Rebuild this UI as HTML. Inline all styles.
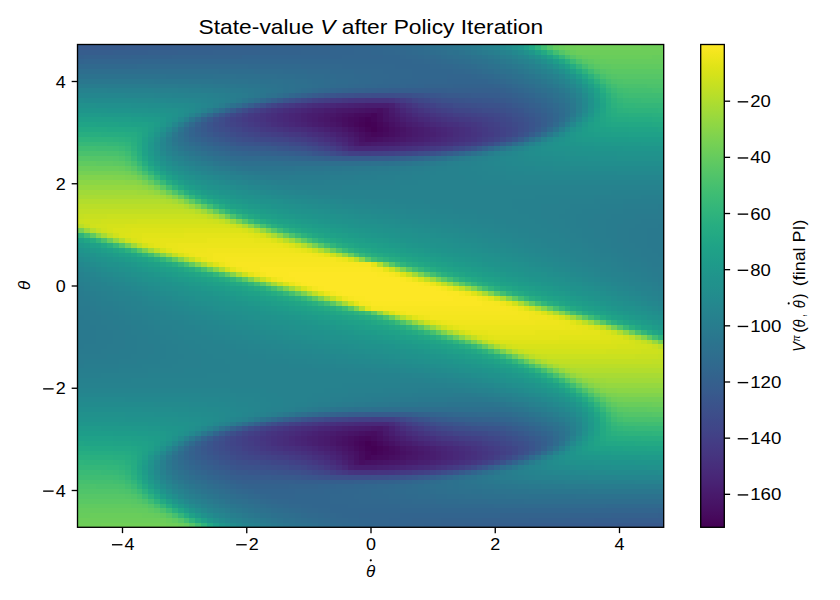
<!DOCTYPE html>
<html><head><meta charset="utf-8"><style>
html,body{margin:0;padding:0;background:#fff;}
body{width:840px;height:600px;position:relative;overflow:hidden;}
svg{position:absolute;left:0;top:0;}
text{font-family:"Liberation Sans",sans-serif;fill:#000;}
</style></head><body>
<svg width="586.2" height="482.8" style="left:77.5px;top:44.5px" viewBox="0 0 100 100" preserveAspectRatio="none" shape-rendering="crispEdges">
<path fill="#38598c" d="M0 0h3v1h-3zM41 10h1v1h-1zM63 10h2v1h-2zM76 13h1v1h-1zM78 15h1v1h-1zM22 18h1v1h-1zM26 20h1v1h-1zM33 21h1v1h-1zM39 22h1v1h-1zM62 22h1v1h-1zM37 77h1v1h-1zM60 77h1v1h-1zM66 78h1v1h-1zM73 79h1v1h-1zM77 81h1v1h-1zM21 84h1v1h-1zM23 86h1v1h-1zM35 89h2v1h-2zM58 89h1v1h-1zM97 99h3v1h-3z"/>
<path fill="#375a8c" d="M3 0h5v1h-5zM65 10h2v1h-2zM34 11h1v1h-1zM73 11h1v1h-1zM75 12h1v1h-1zM22 15h1v1h-1zM21 16h1v1h-1zM21 17h1v1h-1zM32 21h1v1h-1zM68 21h1v1h-1zM31 78h1v1h-1zM67 78h1v1h-1zM78 82h1v1h-1zM78 83h1v1h-1zM77 84h1v1h-1zM24 87h1v1h-1zM26 88h1v1h-1zM65 88h1v1h-1zM33 89h2v1h-2zM92 99h5v1h-5z"/>
<path fill="#375b8d" d="M8 0h4v1h-4zM40 10h1v1h-1zM67 10h3v1h-3zM77 13h1v1h-1zM78 14h1v1h-1zM78 17h1v1h-1zM23 19h1v1h-1zM30 21h2v1h-2zM38 22h1v1h-1zM61 77h1v1h-1zM68 78h2v1h-2zM76 80h1v1h-1zM21 82h1v1h-1zM21 85h1v1h-1zM22 86h1v1h-1zM30 89h3v1h-3zM59 89h1v1h-1zM88 99h4v1h-4z"/>
<path fill="#365c8d" d="M12 0h4v1h-4zM70 10h2v1h-2zM74 11h1v1h-1zM76 12h1v1h-1zM26 13h1v1h-1zM21 18h1v1h-1zM25 20h1v1h-1zM72 20h1v1h-1zM29 21h1v1h-1zM37 22h1v1h-1zM45 23h6v1h-6zM49 76h6v1h-6zM62 77h1v1h-1zM70 78h1v1h-1zM27 79h1v1h-1zM74 79h1v1h-1zM78 81h1v1h-1zM73 86h1v1h-1zM23 87h1v1h-1zM25 88h1v1h-1zM28 89h2v1h-2zM84 99h4v1h-4z"/>
<path fill="#365d8d" d="M16 0h5v1h-5zM0 1h6v1h-6zM72 10h1v1h-1zM79 15h1v1h-1zM79 16h1v1h-1zM77 18h1v1h-1zM75 19h1v1h-1zM28 21h1v1h-1zM63 22h1v1h-1zM44 23h1v1h-1zM51 23h2v1h-2zM47 76h2v1h-2zM55 76h1v1h-1zM36 77h1v1h-1zM71 78h1v1h-1zM24 80h1v1h-1zM22 81h1v1h-1zM20 83h1v1h-1zM20 84h1v1h-1zM27 89h1v1h-1zM94 98h6v1h-6zM79 99h5v1h-5z"/>
<path fill="#355e8d" d="M21 0h4v1h-4zM6 1h6v1h-6zM53 9h10v1h-10zM39 10h1v1h-1zM73 10h1v1h-1zM75 11h1v1h-1zM29 12h1v1h-1zM78 13h1v1h-1zM79 14h1v1h-1zM20 17h1v1h-1zM22 19h1v1h-1zM24 20h1v1h-1zM27 21h1v1h-1zM36 22h1v1h-1zM43 23h1v1h-1zM53 23h1v1h-1zM46 76h1v1h-1zM56 76h1v1h-1zM63 77h1v1h-1zM72 78h1v1h-1zM75 79h1v1h-1zM77 80h1v1h-1zM79 82h1v1h-1zM20 85h1v1h-1zM21 86h1v1h-1zM70 87h1v1h-1zM24 88h1v1h-1zM26 89h1v1h-1zM60 89h1v1h-1zM37 90h10v1h-10zM88 98h6v1h-6zM75 99h4v1h-4z"/>
<path fill="#355f8d" d="M25 0h5v1h-5zM12 1h5v1h-5zM51 9h2v1h-2zM63 9h9v1h-9zM33 11h1v1h-1zM77 12h1v1h-1zM35 22h1v1h-1zM64 77h1v1h-1zM22 87h1v1h-1zM66 88h1v1h-1zM28 90h9v1h-9zM47 90h2v1h-2zM83 98h5v1h-5zM70 99h5v1h-5z"/>
<path fill="#34608d" d="M30 0h4v1h-4zM17 1h6v1h-6zM0 2h1v1h-1zM49 9h2v1h-2zM72 9h1v1h-1zM74 10h1v1h-1zM76 11h1v1h-1zM23 14h1v1h-1zM20 18h1v1h-1zM23 20h1v1h-1zM26 21h1v1h-1zM34 22h1v1h-1zM42 23h1v1h-1zM54 23h1v1h-1zM45 76h1v1h-1zM57 76h1v1h-1zM65 77h1v1h-1zM73 78h1v1h-1zM76 79h1v1h-1zM79 81h1v1h-1zM76 85h1v1h-1zM23 88h1v1h-1zM25 89h1v1h-1zM27 90h1v1h-1zM49 90h2v1h-2zM99 97h1v1h-1zM77 98h6v1h-6zM66 99h4v1h-4z"/>
<path fill="#34618d" d="M34 0h4v1h-4zM23 1h8v1h-8zM1 2h8v1h-8zM47 9h2v1h-2zM38 10h1v1h-1zM78 12h1v1h-1zM79 13h1v1h-1zM80 15h1v1h-1zM20 16h1v1h-1zM21 19h1v1h-1zM69 21h1v1h-1zM33 22h1v1h-1zM64 22h1v1h-1zM55 23h1v1h-1zM44 76h1v1h-1zM35 77h1v1h-1zM66 77h1v1h-1zM30 78h1v1h-1zM78 80h1v1h-1zM79 83h1v1h-1zM19 84h1v1h-1zM20 86h1v1h-1zM21 87h1v1h-1zM61 89h1v1h-1zM51 90h2v1h-2zM91 97h8v1h-8zM69 98h8v1h-8zM62 99h4v1h-4z"/>
<path fill="#33628d" d="M38 0h3v1h-3zM31 1h7v1h-7zM9 2h7v1h-7zM64 8h7v1h-7zM46 9h1v1h-1zM73 9h1v1h-1zM75 10h1v1h-1zM77 11h1v1h-1zM80 14h1v1h-1zM21 15h1v1h-1zM79 17h1v1h-1zM25 21h1v1h-1zM31 22h2v1h-2zM41 23h1v1h-1zM58 76h1v1h-1zM67 77h2v1h-2zM74 78h1v1h-1zM20 82h1v1h-1zM78 84h1v1h-1zM19 85h1v1h-1zM22 88h1v1h-1zM24 89h1v1h-1zM26 90h1v1h-1zM53 90h1v1h-1zM29 91h7v1h-7zM84 97h7v1h-7zM62 98h7v1h-7zM59 99h3v1h-3z"/>
<path fill="#33638d" d="M41 0h3v1h-3zM38 1h5v1h-5zM16 2h12v1h-12zM59 8h5v1h-5zM71 8h1v1h-1zM45 9h1v1h-1zM80 16h1v1h-1zM22 20h1v1h-1zM73 20h1v1h-1zM29 22h2v1h-2zM40 23h1v1h-1zM56 23h1v1h-1zM43 76h1v1h-1zM59 76h1v1h-1zM69 77h2v1h-2zM26 79h1v1h-1zM77 79h1v1h-1zM19 83h1v1h-1zM54 90h1v1h-1zM28 91h1v1h-1zM36 91h5v1h-5zM72 97h12v1h-12zM57 98h5v1h-5zM56 99h3v1h-3z"/>
<path fill="#32648e" d="M44 0h3v1h-3zM43 1h4v1h-4zM28 2h17v1h-17zM0 3h1v1h-1zM63 7h7v1h-7zM56 8h3v1h-3zM72 8h1v1h-1zM44 9h1v1h-1zM74 9h1v1h-1zM37 10h1v1h-1zM76 10h1v1h-1zM32 11h1v1h-1zM79 12h1v1h-1zM25 13h1v1h-1zM80 13h1v1h-1zM19 17h1v1h-1zM19 18h1v1h-1zM20 19h1v1h-1zM24 21h1v1h-1zM28 22h1v1h-1zM39 23h1v1h-1zM60 76h1v1h-1zM71 77h1v1h-1zM75 78h1v1h-1zM79 80h1v1h-1zM80 81h1v1h-1zM80 82h1v1h-1zM19 86h1v1h-1zM74 86h1v1h-1zM20 87h1v1h-1zM67 88h1v1h-1zM23 89h1v1h-1zM62 89h1v1h-1zM25 90h1v1h-1zM55 90h1v1h-1zM27 91h1v1h-1zM41 91h3v1h-3zM30 92h7v1h-7zM99 96h1v1h-1zM55 97h17v1h-17zM53 98h4v1h-4zM53 99h3v1h-3z"/>
<path fill="#32658e" d="M47 0h2v1h-2zM47 1h3v1h-3zM45 2h7v1h-7zM1 3h10v1h-10zM63 6h4v1h-4zM58 7h5v1h-5zM53 8h3v1h-3zM43 9h1v1h-1zM78 11h1v1h-1zM28 12h1v1h-1zM78 18h1v1h-1zM27 22h1v1h-1zM38 23h1v1h-1zM57 23h1v1h-1zM42 76h1v1h-1zM61 76h1v1h-1zM72 77h1v1h-1zM21 81h1v1h-1zM71 87h1v1h-1zM21 88h1v1h-1zM56 90h1v1h-1zM44 91h3v1h-3zM37 92h5v1h-5zM33 93h4v1h-4zM89 96h10v1h-10zM48 97h7v1h-7zM50 98h3v1h-3zM51 99h2v1h-2z"/>
<path fill="#31668e" d="M49 0h2v1h-2zM50 1h2v1h-2zM52 2h3v1h-3zM11 3h46v1h-46zM54 4h6v1h-6zM57 5h7v1h-7zM57 6h6v1h-6zM67 6h1v1h-1zM55 7h3v1h-3zM70 7h1v1h-1zM51 8h2v1h-2zM73 8h1v1h-1zM75 9h1v1h-1zM77 10h1v1h-1zM81 14h1v1h-1zM81 15h1v1h-1zM76 19h1v1h-1zM21 20h1v1h-1zM23 21h1v1h-1zM26 22h1v1h-1zM65 22h1v1h-1zM37 23h1v1h-1zM62 76h1v1h-1zM34 77h1v1h-1zM73 77h1v1h-1zM76 78h1v1h-1zM78 79h1v1h-1zM23 80h1v1h-1zM18 84h1v1h-1zM18 85h1v1h-1zM22 89h1v1h-1zM24 90h1v1h-1zM26 91h1v1h-1zM47 91h2v1h-2zM29 92h1v1h-1zM42 92h3v1h-3zM32 93h1v1h-1zM37 93h6v1h-6zM36 94h7v1h-7zM40 95h6v1h-6zM43 96h46v1h-46zM45 97h3v1h-3zM48 98h2v1h-2zM49 99h2v1h-2z"/>
<path fill="#31678e" d="M51 0h1v1h-1zM52 1h2v1h-2zM55 2h1v1h-1zM57 3h2v1h-2zM45 4h9v1h-9zM60 4h2v1h-2zM52 5h5v1h-5zM64 5h2v1h-2zM53 6h4v1h-4zM68 6h1v1h-1zM52 7h3v1h-3zM71 7h1v1h-1zM49 8h2v1h-2zM42 9h1v1h-1zM36 10h1v1h-1zM79 11h1v1h-1zM80 12h1v1h-1zM19 19h1v1h-1zM36 23h1v1h-1zM58 23h1v1h-1zM41 76h1v1h-1zM63 76h1v1h-1zM80 80h1v1h-1zM19 87h1v1h-1zM20 88h1v1h-1zM63 89h1v1h-1zM57 90h1v1h-1zM49 91h2v1h-2zM28 92h1v1h-1zM45 92h3v1h-3zM31 93h1v1h-1zM43 93h4v1h-4zM34 94h2v1h-2zM43 94h5v1h-5zM38 95h2v1h-2zM46 95h9v1h-9zM41 96h2v1h-2zM44 97h1v1h-1zM46 98h2v1h-2zM48 99h1v1h-1z"/>
<path fill="#31688e" d="M52 0h1v1h-1zM54 1h2v1h-2zM56 2h2v1h-2zM59 3h2v1h-2zM38 4h7v1h-7zM62 4h2v1h-2zM47 5h5v1h-5zM66 5h1v1h-1zM50 6h3v1h-3zM69 6h1v1h-1zM50 7h2v1h-2zM72 7h1v1h-1zM47 8h2v1h-2zM74 8h1v1h-1zM41 9h1v1h-1zM76 9h1v1h-1zM81 13h1v1h-1zM70 21h1v1h-1zM25 22h1v1h-1zM34 23h2v1h-2zM64 76h2v1h-2zM74 77h1v1h-1zM29 78h1v1h-1zM18 86h1v1h-1zM23 90h1v1h-1zM58 90h1v1h-1zM25 91h1v1h-1zM51 91h2v1h-2zM27 92h1v1h-1zM48 92h2v1h-2zM30 93h1v1h-1zM47 93h3v1h-3zM33 94h1v1h-1zM48 94h5v1h-5zM36 95h2v1h-2zM55 95h7v1h-7zM39 96h2v1h-2zM42 97h2v1h-2zM44 98h2v1h-2zM47 99h1v1h-1z"/>
<path fill="#30698e" d="M53 0h2v1h-2zM56 1h1v1h-1zM58 2h1v1h-1zM61 3h1v1h-1zM0 4h10v1h-10zM29 4h9v1h-9zM64 4h1v1h-1zM43 5h4v1h-4zM67 5h1v1h-1zM47 6h3v1h-3zM70 6h1v1h-1zM48 7h2v1h-2zM46 8h1v1h-1zM78 10h1v1h-1zM31 11h1v1h-1zM20 20h1v1h-1zM22 21h1v1h-1zM32 23h2v1h-2zM66 76h2v1h-2zM77 78h1v1h-1zM79 79h1v1h-1zM68 88h1v1h-1zM21 89h1v1h-1zM53 91h1v1h-1zM50 92h2v1h-2zM29 93h1v1h-1zM50 93h3v1h-3zM32 94h1v1h-1zM53 94h4v1h-4zM35 95h1v1h-1zM62 95h9v1h-9zM90 95h10v1h-10zM38 96h1v1h-1zM41 97h1v1h-1zM43 98h1v1h-1zM45 99h2v1h-2z"/>
<path fill="#306a8e" d="M55 0h1v1h-1zM57 1h1v1h-1zM59 2h2v1h-2zM62 3h1v1h-1zM10 4h19v1h-19zM65 4h1v1h-1zM39 5h4v1h-4zM68 5h1v1h-1zM44 6h3v1h-3zM46 7h2v1h-2zM73 7h1v1h-1zM44 8h2v1h-2zM75 8h1v1h-1zM40 9h1v1h-1zM77 9h1v1h-1zM80 11h1v1h-1zM81 12h1v1h-1zM22 14h1v1h-1zM19 16h1v1h-1zM81 16h1v1h-1zM18 18h1v1h-1zM24 22h1v1h-1zM28 23h4v1h-4zM59 23h1v1h-1zM40 76h1v1h-1zM68 76h4v1h-4zM75 77h1v1h-1zM81 81h1v1h-1zM18 83h1v1h-1zM80 83h1v1h-1zM77 85h1v1h-1zM18 87h1v1h-1zM19 88h1v1h-1zM22 90h1v1h-1zM59 90h1v1h-1zM24 91h1v1h-1zM54 91h2v1h-2zM26 92h1v1h-1zM52 92h2v1h-2zM53 93h3v1h-3zM31 94h1v1h-1zM57 94h4v1h-4zM34 95h1v1h-1zM71 95h19v1h-19zM37 96h1v1h-1zM39 97h2v1h-2zM42 98h1v1h-1zM44 99h1v1h-1z"/>
<path fill="#2f6b8e" d="M56 0h1v1h-1zM58 1h1v1h-1zM61 2h1v1h-1zM63 3h1v1h-1zM66 4h1v1h-1zM35 5h4v1h-4zM42 6h2v1h-2zM71 6h1v1h-1zM44 7h2v1h-2zM43 8h1v1h-1zM35 10h1v1h-1zM79 10h1v1h-1zM82 14h1v1h-1zM18 17h1v1h-1zM80 17h1v1h-1zM21 21h1v1h-1zM66 22h1v1h-1zM27 23h1v1h-1zM72 76h1v1h-1zM33 77h1v1h-1zM78 78h1v1h-1zM19 82h1v1h-1zM81 82h1v1h-1zM17 85h1v1h-1zM20 89h1v1h-1zM64 89h1v1h-1zM56 91h1v1h-1zM54 92h2v1h-2zM28 93h1v1h-1zM56 93h2v1h-2zM61 94h4v1h-4zM33 95h1v1h-1zM36 96h1v1h-1zM38 97h1v1h-1zM41 98h1v1h-1zM43 99h1v1h-1z"/>
<path fill="#2f6c8e" d="M57 0h1v1h-1zM59 1h1v1h-1zM64 3h1v1h-1zM67 4h1v1h-1zM30 5h5v1h-5zM69 5h1v1h-1zM39 6h3v1h-3zM72 6h1v1h-1zM42 7h2v1h-2zM74 7h1v1h-1zM42 8h1v1h-1zM76 8h1v1h-1zM39 9h1v1h-1zM27 12h1v1h-1zM82 13h1v1h-1zM20 15h1v1h-1zM18 19h1v1h-1zM19 20h1v1h-1zM74 20h1v1h-1zM23 22h1v1h-1zM26 23h1v1h-1zM60 23h1v1h-1zM39 76h1v1h-1zM73 76h1v1h-1zM76 77h1v1h-1zM25 79h1v1h-1zM80 79h1v1h-1zM81 80h1v1h-1zM79 84h1v1h-1zM17 86h1v1h-1zM72 87h1v1h-1zM60 90h1v1h-1zM23 91h1v1h-1zM57 91h1v1h-1zM25 92h1v1h-1zM56 92h2v1h-2zM27 93h1v1h-1zM58 93h3v1h-3zM30 94h1v1h-1zM65 94h5v1h-5zM32 95h1v1h-1zM35 96h1v1h-1zM40 98h1v1h-1zM42 99h1v1h-1z"/>
<path fill="#2e6d8e" d="M58 0h1v1h-1zM60 1h1v1h-1zM62 2h1v1h-1zM65 3h1v1h-1zM24 5h6v1h-6zM70 5h1v1h-1zM37 6h2v1h-2zM40 7h2v1h-2zM41 8h1v1h-1zM38 9h1v1h-1zM78 9h1v1h-1zM24 13h1v1h-1zM82 15h1v1h-1zM17 84h1v1h-1zM75 86h1v1h-1zM21 90h1v1h-1zM61 90h1v1h-1zM58 91h1v1h-1zM58 92h2v1h-2zM61 93h2v1h-2zM29 94h1v1h-1zM70 94h6v1h-6zM34 96h1v1h-1zM37 97h1v1h-1zM39 98h1v1h-1zM41 99h1v1h-1z"/>
<path fill="#2e6f8e" d="M59 0h1v1h-1zM62 1h1v1h-1zM64 2h1v1h-1zM69 4h1v1h-1zM71 5h1v1h-1zM31 6h3v1h-3zM37 7h2v1h-2zM39 8h1v1h-1zM37 9h1v1h-1zM79 9h1v1h-1zM79 18h1v1h-1zM71 21h1v1h-1zM61 23h1v1h-1zM35 24h13v1h-13zM52 75h13v1h-13zM38 76h1v1h-1zM28 78h1v1h-1zM20 81h1v1h-1zM20 90h1v1h-1zM62 90h1v1h-1zM60 91h1v1h-1zM61 92h2v1h-2zM66 93h3v1h-3zM28 94h1v1h-1zM30 95h1v1h-1zM35 97h1v1h-1zM37 98h1v1h-1zM40 99h1v1h-1z"/>
<path fill="#2d708e" d="M60 0h1v1h-1zM65 2h1v1h-1zM67 3h1v1h-1zM72 5h1v1h-1zM27 6h4v1h-4zM74 6h1v1h-1zM35 7h2v1h-2zM76 7h1v1h-1zM37 8h2v1h-2zM17 18h1v1h-1zM77 19h1v1h-1zM18 20h1v1h-1zM67 22h1v1h-1zM24 23h1v1h-1zM28 24h7v1h-7zM48 24h2v1h-2zM50 75h2v1h-2zM65 75h7v1h-7zM75 76h1v1h-1zM32 77h1v1h-1zM81 79h1v1h-1zM22 80h1v1h-1zM82 81h1v1h-1zM61 91h2v1h-2zM23 92h1v1h-1zM63 92h2v1h-2zM25 93h1v1h-1zM69 93h4v1h-4zM27 94h1v1h-1zM32 96h1v1h-1zM34 97h1v1h-1zM39 99h1v1h-1z"/>
<path fill="#2d718e" d="M61 0h1v1h-1zM63 1h1v1h-1zM68 3h1v1h-1zM70 4h1v1h-1zM23 6h4v1h-4zM33 7h2v1h-2zM36 8h1v1h-1zM78 8h1v1h-1zM36 9h1v1h-1zM33 10h1v1h-1zM81 10h1v1h-1zM82 11h1v1h-1zM83 13h1v1h-1zM17 19h1v1h-1zM19 21h1v1h-1zM21 22h1v1h-1zM27 24h1v1h-1zM50 24h2v1h-2zM48 75h2v1h-2zM72 75h1v1h-1zM78 77h1v1h-1zM80 78h1v1h-1zM82 80h1v1h-1zM16 86h1v1h-1zM17 88h1v1h-1zM18 89h1v1h-1zM66 89h1v1h-1zM63 90h1v1h-1zM21 91h1v1h-1zM63 91h1v1h-1zM65 92h2v1h-2zM73 93h4v1h-4zM29 95h1v1h-1zM31 96h1v1h-1zM36 98h1v1h-1zM38 99h1v1h-1z"/>
<path fill="#2c728e" d="M62 0h1v1h-1zM69 3h1v1h-1zM71 4h1v1h-1zM0 6h15v1h-15zM29 7h2v1h-2zM77 7h1v1h-1zM34 8h1v1h-1zM32 10h1v1h-1zM29 11h1v1h-1zM83 12h1v1h-1zM26 24h1v1h-1zM53 24h1v1h-1zM46 75h1v1h-1zM73 75h1v1h-1zM16 87h1v1h-1zM70 88h1v1h-1zM67 89h1v1h-1zM65 91h1v1h-1zM22 92h1v1h-1zM69 92h2v1h-2zM85 93h15v1h-15zM28 95h1v1h-1zM30 96h1v1h-1zM37 99h1v1h-1z"/>
<path fill="#2c738e" d="M63 0h1v1h-1zM65 1h1v1h-1zM67 2h1v1h-1zM74 5h1v1h-1zM26 7h3v1h-3zM32 8h2v1h-2zM79 8h1v1h-1zM34 9h1v1h-1zM21 14h1v1h-1zM18 16h1v1h-1zM82 16h1v1h-1zM17 20h1v1h-1zM75 20h1v1h-1zM18 21h1v1h-1zM20 22h1v1h-1zM54 24h1v1h-1zM45 75h1v1h-1zM79 77h1v1h-1zM81 78h1v1h-1zM24 79h1v1h-1zM82 79h1v1h-1zM17 83h1v1h-1zM81 83h1v1h-1zM78 85h1v1h-1zM65 90h1v1h-1zM20 91h1v1h-1zM66 91h2v1h-2zM71 92h3v1h-3zM25 94h1v1h-1zM32 97h1v1h-1zM34 98h1v1h-1zM36 99h1v1h-1z"/>
<path fill="#2b758e" d="M64 0h1v1h-1zM66 1h1v1h-1zM19 7h4v1h-4zM29 8h2v1h-2zM32 9h1v1h-1zM31 10h1v1h-1zM83 11h1v1h-1zM83 15h1v1h-1zM72 21h1v1h-1zM63 23h1v1h-1zM24 24h1v1h-1zM56 24h1v1h-1zM28 25h1v1h-1zM37 25h5v1h-5zM58 74h5v1h-5zM71 74h1v1h-1zM43 75h1v1h-1zM75 75h1v1h-1zM36 76h1v1h-1zM27 78h1v1h-1zM16 84h1v1h-1zM16 88h1v1h-1zM68 89h1v1h-1zM67 90h1v1h-1zM69 91h2v1h-2zM77 92h4v1h-4zM33 98h1v1h-1zM35 99h1v1h-1z"/>
<path fill="#2a778e" d="M65 0h1v1h-1zM67 1h1v1h-1zM0 7h13v1h-13zM79 7h1v1h-1zM25 8h2v1h-2zM30 9h1v1h-1zM30 10h1v1h-1zM25 12h1v1h-1zM84 13h1v1h-1zM17 21h1v1h-1zM23 24h1v1h-1zM57 24h1v1h-1zM45 25h2v1h-2zM53 74h2v1h-2zM42 75h1v1h-1zM76 75h1v1h-1zM82 78h1v1h-1zM15 86h1v1h-1zM74 87h1v1h-1zM69 89h1v1h-1zM69 90h1v1h-1zM73 91h2v1h-2zM20 92h1v1h-1zM87 92h13v1h-13zM32 98h1v1h-1zM34 99h1v1h-1z"/>
<path fill="#29798e" d="M66 0h1v1h-1zM68 1h1v1h-1zM78 6h1v1h-1zM21 8h2v1h-2zM81 8h1v1h-1zM28 9h1v1h-1zM29 10h1v1h-1zM84 14h1v1h-1zM80 18h1v1h-1zM18 22h1v1h-1zM69 22h1v1h-1zM20 23h1v1h-1zM49 25h2v1h-2zM30 26h1v1h-1zM37 26h5v1h-5zM99 37h1v1h-1zM97 38h3v1h-3zM97 39h3v1h-3zM97 40h3v1h-3zM97 41h3v1h-3zM98 42h2v1h-2zM99 43h1v1h-1zM0 56h1v1h-1zM0 57h2v1h-2zM0 58h3v1h-3zM0 59h3v1h-3zM0 60h3v1h-3zM0 61h3v1h-3zM0 62h1v1h-1zM58 73h5v1h-5zM69 73h1v1h-1zM49 74h2v1h-2zM79 76h1v1h-1zM30 77h1v1h-1zM81 77h1v1h-1zM19 81h1v1h-1zM15 85h1v1h-1zM70 89h1v1h-1zM71 90h1v1h-1zM18 91h1v1h-1zM77 91h2v1h-2zM21 93h1v1h-1zM31 98h1v1h-1zM33 99h1v1h-1z"/>
<path fill="#297b8e" d="M67 0h1v1h-1zM69 1h1v1h-1zM77 5h1v1h-1zM12 8h5v1h-5zM25 9h1v1h-1zM28 10h1v1h-1zM73 21h1v1h-1zM19 23h1v1h-1zM65 23h1v1h-1zM60 24h1v1h-1zM24 25h1v1h-1zM53 25h2v1h-2zM28 26h1v1h-1zM45 26h3v1h-3zM33 27h3v1h-3zM99 34h1v1h-1zM95 35h5v1h-5zM93 36h3v1h-3zM92 37h3v1h-3zM92 38h2v1h-2zM92 39h2v1h-2zM92 40h2v1h-2zM93 41h2v1h-2zM94 42h2v1h-2zM95 43h1v1h-1zM96 44h1v1h-1zM97 45h1v1h-1zM98 46h2v1h-2zM99 47h1v1h-1zM0 52h1v1h-1zM0 53h2v1h-2zM2 54h1v1h-1zM3 55h1v1h-1zM4 56h1v1h-1zM4 57h2v1h-2zM5 58h2v1h-2zM6 59h2v1h-2zM6 60h2v1h-2zM6 61h2v1h-2zM5 62h3v1h-3zM4 63h3v1h-3zM0 64h5v1h-5zM0 65h1v1h-1zM64 72h3v1h-3zM52 73h3v1h-3zM71 73h1v1h-1zM45 74h2v1h-2zM75 74h1v1h-1zM39 75h1v1h-1zM34 76h1v1h-1zM80 76h1v1h-1zM26 78h1v1h-1zM71 89h1v1h-1zM74 90h1v1h-1zM83 91h5v1h-5zM22 94h1v1h-1zM30 98h1v1h-1zM32 99h1v1h-1z"/>
<path fill="#287d8e" d="M68 0h1v1h-1zM70 1h1v1h-1zM72 2h1v1h-1zM74 3h1v1h-1zM76 4h1v1h-1zM82 8h1v1h-1zM21 9h2v1h-2zM26 10h1v1h-1zM26 11h1v1h-1zM24 12h1v1h-1zM20 14h1v1h-1zM61 24h1v1h-1zM23 25h1v1h-1zM56 25h1v1h-1zM50 26h3v1h-3zM31 27h1v1h-1zM43 27h4v1h-4zM93 33h6v1h-6zM90 34h3v1h-3zM88 35h3v1h-3zM87 36h3v1h-3zM87 37h3v1h-3zM88 38h2v1h-2zM88 39h2v1h-2zM89 40h2v1h-2zM90 41h1v1h-1zM91 42h1v1h-1zM92 43h1v1h-1zM93 44h1v1h-1zM94 45h2v1h-2zM96 46h1v1h-1zM97 47h1v1h-1zM98 48h1v1h-1zM99 49h1v1h-1zM0 50h1v1h-1zM1 51h1v1h-1zM2 52h1v1h-1zM3 53h1v1h-1zM4 54h2v1h-2zM6 55h1v1h-1zM7 56h1v1h-1zM8 57h1v1h-1zM9 58h1v1h-1zM9 59h2v1h-2zM10 60h2v1h-2zM10 61h2v1h-2zM10 62h3v1h-3zM10 63h3v1h-3zM9 64h3v1h-3zM7 65h3v1h-3zM1 66h6v1h-6zM53 72h4v1h-4zM68 72h1v1h-1zM47 73h3v1h-3zM43 74h1v1h-1zM76 74h1v1h-1zM38 75h1v1h-1zM79 85h1v1h-1zM75 87h1v1h-1zM73 88h1v1h-1zM73 89h1v1h-1zM77 90h2v1h-2zM17 91h1v1h-1zM23 95h1v1h-1zM25 96h1v1h-1zM27 97h1v1h-1zM29 98h1v1h-1zM31 99h1v1h-1z"/>
<path fill="#27808e" d="M69 0h1v1h-1zM75 3h1v1h-1zM77 4h1v1h-1zM13 9h4v1h-4zM23 10h1v1h-1zM85 12h1v1h-1zM85 13h1v1h-1zM16 22h1v1h-1zM67 23h1v1h-1zM63 24h1v1h-1zM22 25h1v1h-1zM60 25h1v1h-1zM25 26h1v1h-1zM57 26h2v1h-2zM28 27h1v1h-1zM54 27h3v1h-3zM33 28h1v1h-1zM48 28h6v1h-6zM40 29h5v1h-5zM88 31h8v1h-8zM82 32h6v1h-6zM79 33h5v1h-5zM79 34h4v1h-4zM79 35h3v1h-3zM80 36h3v1h-3zM81 37h2v1h-2zM82 38h2v1h-2zM83 39h2v1h-2zM84 40h2v1h-2zM86 41h1v1h-1zM87 42h1v1h-1zM88 43h1v1h-1zM89 44h2v1h-2zM91 45h1v1h-1zM92 46h1v1h-1zM94 47h1v1h-1zM95 48h1v1h-1zM1 49h1v1h-1zM97 49h1v1h-1zM2 50h1v1h-1zM98 50h1v1h-1zM4 51h1v1h-1zM5 52h1v1h-1zM7 53h1v1h-1zM8 54h1v1h-1zM9 55h2v1h-2zM11 56h1v1h-1zM12 57h1v1h-1zM13 58h1v1h-1zM14 59h2v1h-2zM15 60h2v1h-2zM16 61h2v1h-2zM17 62h2v1h-2zM17 63h3v1h-3zM18 64h3v1h-3zM17 65h4v1h-4zM16 66h5v1h-5zM12 67h6v1h-6zM4 68h8v1h-8zM55 70h5v1h-5zM46 71h6v1h-6zM66 71h1v1h-1zM43 72h3v1h-3zM71 72h1v1h-1zM41 73h2v1h-2zM74 73h1v1h-1zM39 74h1v1h-1zM77 74h1v1h-1zM36 75h1v1h-1zM32 76h1v1h-1zM83 77h1v1h-1zM14 86h1v1h-1zM14 87h1v1h-1zM76 89h1v1h-1zM83 90h4v1h-4zM22 95h1v1h-1zM24 96h1v1h-1zM30 99h1v1h-1z"/>
<path fill="#26828e" d="M70 0h1v1h-1zM72 1h1v1h-1zM74 2h1v1h-1zM82 7h1v1h-1zM83 8h1v1h-1zM0 9h5v1h-5zM84 9h1v1h-1zM20 10h2v1h-2zM21 13h1v1h-1zM15 18h1v1h-1zM79 19h1v1h-1zM71 22h1v1h-1zM17 23h1v1h-1zM68 23h1v1h-1zM65 24h1v1h-1zM21 25h1v1h-1zM63 25h1v1h-1zM61 26h2v1h-2zM27 27h1v1h-1zM60 27h3v1h-3zM31 28h1v1h-1zM58 28h5v1h-5zM36 29h1v1h-1zM55 29h9v1h-9zM43 30h48v1h-48zM59 31h19v1h-19zM66 32h8v1h-8zM69 33h5v1h-5zM71 34h4v1h-4zM74 35h3v1h-3zM75 36h3v1h-3zM77 37h2v1h-2zM78 38h2v1h-2zM80 39h2v1h-2zM81 40h2v1h-2zM83 41h1v1h-1zM84 42h2v1h-2zM86 43h1v1h-1zM87 44h1v1h-1zM89 45h1v1h-1zM90 46h1v1h-1zM92 47h1v1h-1zM1 48h1v1h-1zM2 49h1v1h-1zM95 49h1v1h-1zM4 50h1v1h-1zM97 50h1v1h-1zM98 51h1v1h-1zM7 52h1v1h-1zM9 53h1v1h-1zM10 54h1v1h-1zM12 55h1v1h-1zM13 56h1v1h-1zM14 57h2v1h-2zM16 58h1v1h-1zM17 59h2v1h-2zM18 60h2v1h-2zM20 61h2v1h-2zM21 62h2v1h-2zM22 63h3v1h-3zM23 64h3v1h-3zM25 65h4v1h-4zM26 66h5v1h-5zM26 67h8v1h-8zM22 68h19v1h-19zM9 69h48v1h-48zM36 70h9v1h-9zM63 70h1v1h-1zM37 71h5v1h-5zM68 71h1v1h-1zM37 72h3v1h-3zM72 72h1v1h-1zM37 73h2v1h-2zM36 74h1v1h-1zM78 74h1v1h-1zM34 75h1v1h-1zM31 76h1v1h-1zM82 76h1v1h-1zM28 77h1v1h-1zM20 80h1v1h-1zM84 81h1v1h-1zM78 86h1v1h-1zM78 89h2v1h-2zM15 90h1v1h-1zM95 90h5v1h-5zM16 91h1v1h-1zM17 92h1v1h-1zM25 97h1v1h-1zM27 98h1v1h-1zM29 99h1v1h-1z"/>
<path fill="#25848e" d="M71 0h1v1h-1zM73 1h1v1h-1zM80 5h1v1h-1zM13 10h3v1h-3zM85 10h1v1h-1zM21 11h1v1h-1zM22 12h1v1h-1zM19 14h1v1h-1zM75 21h1v1h-1zM15 22h1v1h-1zM72 22h1v1h-1zM16 23h1v1h-1zM68 24h1v1h-1zM67 25h2v1h-2zM22 26h1v1h-1zM68 26h2v1h-2zM25 27h1v1h-1zM69 27h4v1h-4zM74 28h26v1h-26zM33 29h1v1h-1zM37 30h2v1h-2zM43 31h2v1h-2zM50 32h4v1h-4zM56 33h4v1h-4zM61 34h3v1h-3zM65 35h3v1h-3zM68 36h3v1h-3zM71 37h2v1h-2zM73 38h2v1h-2zM75 39h2v1h-2zM77 40h2v1h-2zM79 41h1v1h-1zM81 42h1v1h-1zM82 43h2v1h-2zM84 44h1v1h-1zM86 45h1v1h-1zM88 46h1v1h-1zM1 47h1v1h-1zM89 47h1v1h-1zM3 48h1v1h-1zM91 48h1v1h-1zM93 49h1v1h-1zM6 50h1v1h-1zM8 51h1v1h-1zM96 51h1v1h-1zM10 52h1v1h-1zM98 52h1v1h-1zM11 53h1v1h-1zM13 54h1v1h-1zM15 55h1v1h-1zM16 56h2v1h-2zM18 57h1v1h-1zM20 58h1v1h-1zM21 59h2v1h-2zM23 60h2v1h-2zM25 61h2v1h-2zM27 62h2v1h-2zM29 63h3v1h-3zM32 64h3v1h-3zM36 65h3v1h-3zM40 66h4v1h-4zM46 67h4v1h-4zM55 68h2v1h-2zM61 69h2v1h-2zM66 70h1v1h-1zM0 71h26v1h-26zM27 72h4v1h-4zM74 72h1v1h-1zM30 73h2v1h-2zM77 73h1v1h-1zM31 74h2v1h-2zM31 75h1v1h-1zM83 76h1v1h-1zM27 77h1v1h-1zM84 77h1v1h-1zM24 78h1v1h-1zM80 85h1v1h-1zM77 87h1v1h-1zM78 88h1v1h-1zM14 89h1v1h-1zM84 89h3v1h-3zM19 94h1v1h-1zM26 98h1v1h-1zM28 99h1v1h-1z"/>
<path fill="#23888e" d="M72 0h1v1h-1zM74 1h1v1h-1zM76 2h1v1h-1zM85 9h1v1h-1zM15 11h2v1h-2zM20 12h1v1h-1zM86 12h1v1h-1zM16 16h1v1h-1zM84 16h1v1h-1zM78 20h1v1h-1zM76 21h1v1h-1zM74 22h1v1h-1zM72 23h1v1h-1zM73 24h1v1h-1zM75 25h3v1h-3zM81 26h11v1h-11zM23 27h1v1h-1zM26 28h1v1h-1zM29 29h1v1h-1zM33 30h1v1h-1zM37 31h2v1h-2zM42 32h2v1h-2zM47 33h2v1h-2zM52 34h2v1h-2zM56 35h2v1h-2zM60 36h2v1h-2zM64 37h1v1h-1zM66 38h2v1h-2zM69 39h2v1h-2zM72 40h1v1h-1zM74 41h1v1h-1zM76 42h1v1h-1zM78 43h1v1h-1zM80 44h1v1h-1zM0 45h1v1h-1zM82 45h1v1h-1zM2 46h1v1h-1zM84 46h1v1h-1zM86 47h1v1h-1zM88 48h1v1h-1zM90 49h1v1h-1zM9 50h1v1h-1zM11 51h1v1h-1zM13 52h1v1h-1zM15 53h1v1h-1zM97 53h1v1h-1zM17 54h1v1h-1zM99 54h1v1h-1zM19 55h1v1h-1zM21 56h1v1h-1zM23 57h1v1h-1zM25 58h1v1h-1zM27 59h1v1h-1zM29 60h2v1h-2zM32 61h2v1h-2zM35 62h1v1h-1zM38 63h2v1h-2zM42 64h2v1h-2zM46 65h2v1h-2zM51 66h2v1h-2zM56 67h2v1h-2zM61 68h2v1h-2zM66 69h1v1h-1zM70 70h1v1h-1zM73 71h1v1h-1zM76 72h1v1h-1zM8 73h11v1h-11zM22 74h3v1h-3zM26 75h1v1h-1zM27 76h1v1h-1zM25 77h1v1h-1zM23 78h1v1h-1zM21 79h1v1h-1zM15 83h1v1h-1zM83 83h1v1h-1zM13 87h1v1h-1zM79 87h1v1h-1zM83 88h2v1h-2zM14 90h1v1h-1zM23 97h1v1h-1zM25 98h1v1h-1zM27 99h1v1h-1z"/>
<path fill="#228c8d" d="M73 0h1v1h-1zM75 1h1v1h-1zM80 4h1v1h-1zM86 10h1v1h-1zM0 11h1v1h-1zM16 12h2v1h-2zM14 18h1v1h-1zM77 21h1v1h-1zM76 22h1v1h-1zM77 23h2v1h-2zM81 24h3v1h-3zM17 25h1v1h-1zM21 27h1v1h-1zM30 30h1v1h-1zM33 31h1v1h-1zM37 32h1v1h-1zM41 33h2v1h-2zM46 34h1v1h-1zM50 35h1v1h-1zM54 36h1v1h-1zM57 37h2v1h-2zM61 38h1v1h-1zM64 39h1v1h-1zM66 40h2v1h-2zM69 41h1v1h-1zM71 42h2v1h-2zM74 43h1v1h-1zM0 44h1v1h-1zM76 44h1v1h-1zM2 45h1v1h-1zM78 45h1v1h-1zM4 46h1v1h-1zM6 47h1v1h-1zM83 47h1v1h-1zM8 48h1v1h-1zM85 48h1v1h-1zM10 49h1v1h-1zM87 49h1v1h-1zM12 50h1v1h-1zM89 50h1v1h-1zM14 51h1v1h-1zM91 51h1v1h-1zM16 52h1v1h-1zM93 52h1v1h-1zM95 53h1v1h-1zM21 54h1v1h-1zM97 54h1v1h-1zM23 55h1v1h-1zM99 55h1v1h-1zM25 56h1v1h-1zM27 57h2v1h-2zM30 58h1v1h-1zM32 59h2v1h-2zM35 60h1v1h-1zM38 61h1v1h-1zM41 62h2v1h-2zM45 63h1v1h-1zM49 64h1v1h-1zM53 65h1v1h-1zM57 66h2v1h-2zM62 67h1v1h-1zM66 68h1v1h-1zM69 69h1v1h-1zM78 72h1v1h-1zM82 74h1v1h-1zM16 75h3v1h-3zM21 76h2v1h-2zM23 77h1v1h-1zM22 78h1v1h-1zM85 81h1v1h-1zM82 87h2v1h-2zM99 88h1v1h-1zM13 89h1v1h-1zM19 95h1v1h-1zM24 98h1v1h-1zM26 99h1v1h-1z"/>
<path fill="#21918c" d="M74 0h1v1h-1zM76 1h1v1h-1zM86 9h1v1h-1zM0 12h3v1h-3zM15 13h2v1h-2zM15 16h1v1h-1zM13 19h1v1h-1zM80 21h1v1h-1zM83 22h2v1h-2zM92 23h8v1h-8zM17 26h1v1h-1zM19 27h1v1h-1zM21 28h1v1h-1zM33 32h1v1h-1zM36 33h1v1h-1zM40 34h1v1h-1zM44 35h1v1h-1zM47 36h1v1h-1zM51 37h1v1h-1zM54 38h1v1h-1zM57 39h1v1h-1zM60 40h2v1h-2zM63 41h1v1h-1zM66 42h1v1h-1zM69 43h1v1h-1zM71 44h1v1h-1zM74 45h1v1h-1zM7 46h1v1h-1zM76 46h1v1h-1zM9 47h1v1h-1zM79 47h1v1h-1zM11 48h1v1h-1zM81 48h1v1h-1zM83 49h1v1h-1zM16 50h1v1h-1zM18 51h1v1h-1zM88 51h1v1h-1zM20 52h1v1h-1zM90 52h1v1h-1zM23 53h1v1h-1zM92 53h1v1h-1zM25 54h1v1h-1zM28 55h1v1h-1zM30 56h1v1h-1zM33 57h1v1h-1zM36 58h1v1h-1zM38 59h2v1h-2zM42 60h1v1h-1zM45 61h1v1h-1zM48 62h1v1h-1zM52 63h1v1h-1zM55 64h1v1h-1zM59 65h1v1h-1zM63 66h1v1h-1zM66 67h1v1h-1zM78 71h1v1h-1zM80 72h1v1h-1zM82 73h1v1h-1zM0 76h8v1h-8zM15 77h2v1h-2zM19 78h1v1h-1zM86 80h1v1h-1zM84 83h1v1h-1zM83 86h2v1h-2zM97 87h3v1h-3zM13 90h1v1h-1zM23 98h1v1h-1zM25 99h1v1h-1z"/>
<path fill="#1f968b" d="M75 0h1v1h-1zM83 5h1v1h-1zM86 8h1v1h-1zM13 14h1v1h-1zM87 14h1v1h-1zM85 20h1v1h-1zM93 21h7v1h-7zM19 28h1v1h-1zM21 29h1v1h-1zM26 31h1v1h-1zM32 33h1v1h-1zM35 34h1v1h-1zM38 35h1v1h-1zM41 36h1v1h-1zM45 37h1v1h-1zM48 38h1v1h-1zM51 39h1v1h-1zM54 40h1v1h-1zM57 41h1v1h-1zM1 42h1v1h-1zM60 42h1v1h-1zM3 43h1v1h-1zM63 43h1v1h-1zM66 44h1v1h-1zM8 45h1v1h-1zM10 46h1v1h-1zM71 46h1v1h-1zM74 47h1v1h-1zM15 48h1v1h-1zM79 49h1v1h-1zM20 50h1v1h-1zM84 51h1v1h-1zM25 52h1v1h-1zM28 53h1v1h-1zM89 53h1v1h-1zM91 54h1v1h-1zM33 55h1v1h-1zM36 56h1v1h-1zM96 56h1v1h-1zM39 57h1v1h-1zM98 57h1v1h-1zM42 58h1v1h-1zM45 59h1v1h-1zM48 60h1v1h-1zM51 61h1v1h-1zM54 62h1v1h-1zM58 63h1v1h-1zM61 64h1v1h-1zM64 65h1v1h-1zM67 66h1v1h-1zM73 68h1v1h-1zM78 70h1v1h-1zM80 71h1v1h-1zM0 78h7v1h-7zM14 79h1v1h-1zM12 85h1v1h-1zM86 85h1v1h-1zM13 91h1v1h-1zM16 94h1v1h-1zM24 99h1v1h-1z"/>
<path fill="#1f9e89" d="M76 0h1v1h-1zM86 7h1v1h-1zM6 15h3v1h-3zM88 18h1v1h-1zM17 28h1v1h-1zM25 32h1v1h-1zM30 34h1v1h-1zM33 35h1v1h-1zM36 36h1v1h-1zM39 37h1v1h-1zM42 38h1v1h-1zM45 39h1v1h-1zM48 40h1v1h-1zM51 41h1v1h-1zM4 42h1v1h-1zM54 42h1v1h-1zM57 43h1v1h-1zM9 44h1v1h-1zM60 44h1v1h-1zM63 45h1v1h-1zM14 46h1v1h-1zM66 46h1v1h-1zM22 49h1v1h-1zM74 49h1v1h-1zM25 50h1v1h-1zM77 50h1v1h-1zM33 53h1v1h-1zM85 53h1v1h-1zM36 54h1v1h-1zM39 55h1v1h-1zM90 55h1v1h-1zM42 56h1v1h-1zM45 57h1v1h-1zM95 57h1v1h-1zM48 58h1v1h-1zM51 59h1v1h-1zM54 60h1v1h-1zM57 61h1v1h-1zM60 62h1v1h-1zM63 63h1v1h-1zM66 64h1v1h-1zM69 65h1v1h-1zM74 67h1v1h-1zM82 71h1v1h-1zM11 81h1v1h-1zM91 84h3v1h-3zM13 92h1v1h-1zM23 99h1v1h-1z"/>
<path fill="#22a884" d="M77 0h1v1h-1zM89 10h1v1h-1zM90 15h1v1h-1zM94 16h4v1h-4zM5 17h3v1h-3zM10 18h1v1h-1zM40 39h1v1h-1zM43 40h1v1h-1zM4 41h1v1h-1zM12 44h1v1h-1zM55 44h1v1h-1zM58 45h1v1h-1zM61 46h1v1h-1zM64 47h1v1h-1zM67 48h1v1h-1zM32 51h1v1h-1zM35 52h1v1h-1zM38 53h1v1h-1zM41 54h1v1h-1zM44 55h1v1h-1zM87 55h1v1h-1zM95 58h1v1h-1zM56 59h1v1h-1zM59 60h1v1h-1zM89 81h1v1h-1zM92 82h3v1h-3zM2 83h4v1h-4zM9 84h1v1h-1zM10 89h1v1h-1zM22 99h1v1h-1z"/>
<path fill="#2eb37c" d="M78 0h1v1h-1zM86 5h1v1h-1zM91 11h1v1h-1zM94 13h5v1h-5zM2 19h4v1h-4zM0 39h1v1h-1zM99 60h1v1h-1zM94 80h4v1h-4zM1 86h5v1h-5zM8 88h1v1h-1zM13 94h1v1h-1zM21 99h1v1h-1z"/>
<path fill="#40bd72" d="M79 0h1v1h-1zM92 9h1v1h-1zM0 21h3v1h-3zM15 29h1v1h-1zM42 41h1v1h-1zM12 43h1v1h-1zM50 44h1v1h-1zM49 55h1v1h-1zM87 56h1v1h-1zM57 58h1v1h-1zM84 70h1v1h-1zM97 78h3v1h-3zM7 90h1v1h-1zM20 99h1v1h-1z"/>
<path fill="#54c568" d="M80 0h1v1h-1zM82 1h1v1h-1zM89 5h1v1h-1zM91 6h1v1h-1zM2 23h4v1h-4zM94 76h4v1h-4zM8 93h1v1h-1zM10 94h1v1h-1zM17 98h1v1h-1zM19 99h1v1h-1z"/>
<path fill="#63cb5f" d="M81 0h1v1h-1zM88 3h2v1h-2zM19 45h1v1h-1zM22 46h1v1h-1zM77 53h1v1h-1zM80 54h1v1h-1zM10 96h2v1h-2zM18 99h1v1h-1z"/>
<path fill="#69cd5b" d="M82 0h1v1h-1zM89 2h9v1h-9zM2 25h5v1h-5zM15 30h1v1h-1zM35 39h1v1h-1zM46 43h1v1h-1zM53 56h1v1h-1zM64 60h1v1h-1zM84 69h1v1h-1zM93 74h5v1h-5zM2 97h9v1h-9zM17 99h1v1h-1z"/>
<path fill="#6ece58" d="M83 0h2v1h-2zM96 0h4v1h-4zM10 27h1v1h-1zM43 42h1v1h-1zM56 57h1v1h-1zM89 72h1v1h-1zM0 99h4v1h-4zM15 99h2v1h-2z"/>
<path fill="#70cf57" d="M85 0h11v1h-11zM8 26h1v1h-1zM91 73h1v1h-1zM4 99h11v1h-11z"/>
<path fill="#2e6e8e" d="M61 1h1v1h-1zM63 2h1v1h-1zM66 3h1v1h-1zM68 4h1v1h-1zM0 5h24v1h-24zM34 6h3v1h-3zM73 6h1v1h-1zM39 7h1v1h-1zM75 7h1v1h-1zM40 8h1v1h-1zM77 8h1v1h-1zM34 10h1v1h-1zM80 10h1v1h-1zM30 11h1v1h-1zM81 11h1v1h-1zM82 12h1v1h-1zM20 21h1v1h-1zM22 22h1v1h-1zM25 23h1v1h-1zM74 76h1v1h-1zM77 77h1v1h-1zM79 78h1v1h-1zM17 87h1v1h-1zM18 88h1v1h-1zM69 88h1v1h-1zM19 89h1v1h-1zM65 89h1v1h-1zM22 91h1v1h-1zM59 91h1v1h-1zM24 92h1v1h-1zM60 92h1v1h-1zM26 93h1v1h-1zM63 93h3v1h-3zM76 94h24v1h-24zM31 95h1v1h-1zM33 96h1v1h-1zM36 97h1v1h-1zM38 98h1v1h-1z"/>
<path fill="#2c718e" d="M64 1h1v1h-1zM66 2h1v1h-1zM73 5h1v1h-1zM15 6h8v1h-8zM75 6h1v1h-1zM31 7h2v1h-2zM35 8h1v1h-1zM35 9h1v1h-1zM80 9h1v1h-1zM26 12h1v1h-1zM83 14h1v1h-1zM23 23h1v1h-1zM62 23h1v1h-1zM52 24h1v1h-1zM47 75h1v1h-1zM37 76h1v1h-1zM76 76h1v1h-1zM16 85h1v1h-1zM73 87h1v1h-1zM19 90h1v1h-1zM64 90h1v1h-1zM64 91h1v1h-1zM67 92h2v1h-2zM24 93h1v1h-1zM77 93h8v1h-8zM26 94h1v1h-1zM33 97h1v1h-1zM35 98h1v1h-1z"/>
<path fill="#277f8e" d="M71 1h1v1h-1zM73 2h1v1h-1zM80 6h1v1h-1zM17 9h2v1h-2zM24 10h1v1h-1zM25 11h1v1h-1zM84 15h1v1h-1zM16 17h1v1h-1zM82 17h1v1h-1zM15 20h1v1h-1zM59 25h1v1h-1zM55 26h2v1h-2zM29 27h1v1h-1zM51 27h3v1h-3zM34 28h2v1h-2zM42 28h6v1h-6zM96 31h4v1h-4zM88 32h5v1h-5zM84 33h5v1h-5zM83 34h3v1h-3zM82 35h3v1h-3zM83 36h2v1h-2zM83 37h2v1h-2zM84 38h2v1h-2zM85 39h1v1h-1zM86 40h1v1h-1zM87 41h1v1h-1zM88 42h1v1h-1zM89 43h2v1h-2zM91 44h1v1h-1zM92 45h1v1h-1zM93 46h1v1h-1zM95 47h1v1h-1zM96 48h1v1h-1zM0 49h1v1h-1zM98 49h1v1h-1zM1 50h1v1h-1zM99 50h1v1h-1zM3 51h1v1h-1zM4 52h1v1h-1zM6 53h1v1h-1zM7 54h1v1h-1zM8 55h1v1h-1zM9 56h2v1h-2zM11 57h1v1h-1zM12 58h1v1h-1zM13 59h1v1h-1zM14 60h1v1h-1zM14 61h2v1h-2zM15 62h2v1h-2zM15 63h2v1h-2zM15 64h3v1h-3zM14 65h3v1h-3zM11 66h5v1h-5zM7 67h5v1h-5zM0 68h4v1h-4zM52 71h6v1h-6zM64 71h2v1h-2zM46 72h3v1h-3zM70 72h1v1h-1zM43 73h2v1h-2zM40 74h1v1h-1zM84 79h1v1h-1zM17 82h1v1h-1zM83 82h1v1h-1zM15 84h1v1h-1zM74 88h1v1h-1zM75 89h1v1h-1zM81 90h2v1h-2zM19 93h1v1h-1zM26 97h1v1h-1zM28 98h1v1h-1z"/>
<path fill="#1f978b" d="M77 1h1v1h-1zM11 14h2v1h-2zM14 16h1v1h-1zM85 17h1v1h-1zM84 18h1v1h-1zM84 19h1v1h-1zM86 20h2v1h-2zM17 27h1v1h-1zM23 30h1v1h-1zM28 32h1v1h-1zM31 33h1v1h-1zM34 34h1v1h-1zM37 35h1v1h-1zM44 37h1v1h-1zM47 38h1v1h-1zM50 39h1v1h-1zM53 40h1v1h-1zM56 41h1v1h-1zM59 42h1v1h-1zM62 43h1v1h-1zM6 44h1v1h-1zM65 44h1v1h-1zM68 45h1v1h-1zM13 47h1v1h-1zM73 47h1v1h-1zM76 48h1v1h-1zM18 49h1v1h-1zM81 50h1v1h-1zM23 51h1v1h-1zM26 52h1v1h-1zM86 52h1v1h-1zM31 54h1v1h-1zM34 55h1v1h-1zM93 55h1v1h-1zM37 56h1v1h-1zM40 57h1v1h-1zM43 58h1v1h-1zM46 59h1v1h-1zM49 60h1v1h-1zM52 61h1v1h-1zM55 62h1v1h-1zM62 64h1v1h-1zM65 65h1v1h-1zM68 66h1v1h-1zM71 67h1v1h-1zM76 69h1v1h-1zM82 72h1v1h-1zM12 79h2v1h-2zM15 80h1v1h-1zM15 81h1v1h-1zM14 82h1v1h-1zM85 83h1v1h-1zM87 85h2v1h-2zM22 98h1v1h-1z"/>
<path fill="#1fa088" d="M78 1h1v1h-1zM91 18h3v1h-3zM22 31h1v1h-1zM29 34h1v1h-1zM32 35h1v1h-1zM35 36h1v1h-1zM2 41h1v1h-1zM50 41h1v1h-1zM53 42h1v1h-1zM7 43h1v1h-1zM56 43h1v1h-1zM59 44h1v1h-1zM62 45h1v1h-1zM15 46h1v1h-1zM23 49h1v1h-1zM73 49h1v1h-1zM26 50h1v1h-1zM76 50h1v1h-1zM84 53h1v1h-1zM37 54h1v1h-1zM40 55h1v1h-1zM43 56h1v1h-1zM92 56h1v1h-1zM46 57h1v1h-1zM49 58h1v1h-1zM97 58h1v1h-1zM64 63h1v1h-1zM67 64h1v1h-1zM70 65h1v1h-1zM77 68h1v1h-1zM6 81h3v1h-3zM21 98h1v1h-1z"/>
<path fill="#23a983" d="M79 1h1v1h-1zM85 5h1v1h-1zM88 8h1v1h-1zM98 16h2v1h-2zM0 17h5v1h-5zM10 19h1v1h-1zM10 20h1v1h-1zM17 29h1v1h-1zM29 35h1v1h-1zM37 38h1v1h-1zM15 45h1v1h-1zM84 54h1v1h-1zM62 61h1v1h-1zM70 64h1v1h-1zM82 70h1v1h-1zM89 79h1v1h-1zM89 80h1v1h-1zM95 82h5v1h-5zM0 83h2v1h-2zM11 91h1v1h-1zM14 94h1v1h-1zM20 98h1v1h-1z"/>
<path fill="#2fb47c" d="M80 1h1v1h-1zM92 12h1v1h-1zM99 13h1v1h-1zM0 19h2v1h-2zM8 20h1v1h-1zM21 32h1v1h-1zM23 33h1v1h-1zM35 38h1v1h-1zM11 43h1v1h-1zM55 45h1v1h-1zM44 54h1v1h-1zM88 56h1v1h-1zM64 61h1v1h-1zM76 66h1v1h-1zM78 67h1v1h-1zM91 79h1v1h-1zM98 80h2v1h-2zM0 86h1v1h-1zM7 87h1v1h-1zM19 98h1v1h-1z"/>
<path fill="#42be71" d="M81 1h1v1h-1zM91 8h1v1h-1zM93 9h1v1h-1zM1 39h1v1h-1zM57 46h1v1h-1zM27 48h1v1h-1zM30 49h1v1h-1zM69 50h1v1h-1zM72 51h1v1h-1zM42 53h1v1h-1zM98 60h1v1h-1zM6 90h1v1h-1zM8 91h1v1h-1zM18 98h1v1h-1z"/>
<path fill="#60ca60" d="M83 1h1v1h-1zM85 2h1v1h-1zM91 4h9v1h-9zM0 24h3v1h-3zM8 25h1v1h-1zM19 32h1v1h-1zM21 33h1v1h-1zM2 39h1v1h-1zM38 40h1v1h-1zM16 44h1v1h-1zM25 47h1v1h-1zM74 52h1v1h-1zM83 55h1v1h-1zM61 59h1v1h-1zM97 60h1v1h-1zM78 66h1v1h-1zM80 67h1v1h-1zM91 74h1v1h-1zM97 75h3v1h-3zM0 95h9v1h-9zM14 97h1v1h-1zM16 98h1v1h-1z"/>
<path fill="#67cc5c" d="M84 1h1v1h-1zM87 2h2v1h-2zM98 2h2v1h-2zM7 25h1v1h-1zM9 26h1v1h-1zM90 73h1v1h-1zM92 74h1v1h-1zM0 97h2v1h-2zM11 97h2v1h-2zM15 98h1v1h-1z"/>
<path fill="#6ccd5a" d="M85 1h15v1h-15zM0 25h2v1h-2zM25 35h1v1h-1zM5 40h1v1h-1zM94 59h1v1h-1zM74 64h1v1h-1zM98 74h2v1h-2zM0 98h15v1h-15z"/>
<path fill="#2b748e" d="M68 2h1v1h-1zM70 3h1v1h-1zM72 4h1v1h-1zM76 6h1v1h-1zM23 7h3v1h-3zM78 7h1v1h-1zM31 8h1v1h-1zM33 9h1v1h-1zM81 9h1v1h-1zM82 10h1v1h-1zM23 13h1v1h-1zM17 17h1v1h-1zM81 17h1v1h-1zM68 22h1v1h-1zM22 23h1v1h-1zM25 24h1v1h-1zM55 24h1v1h-1zM29 25h8v1h-8zM63 74h8v1h-8zM44 75h1v1h-1zM74 75h1v1h-1zM77 76h1v1h-1zM31 77h1v1h-1zM18 82h1v1h-1zM82 82h1v1h-1zM76 86h1v1h-1zM17 89h1v1h-1zM18 90h1v1h-1zM66 90h1v1h-1zM68 91h1v1h-1zM21 92h1v1h-1zM74 92h3v1h-3zM23 93h1v1h-1zM27 95h1v1h-1zM29 96h1v1h-1zM31 97h1v1h-1z"/>
<path fill="#2a768e" d="M69 2h1v1h-1zM71 3h1v1h-1zM73 4h1v1h-1zM75 5h1v1h-1zM77 6h1v1h-1zM13 7h6v1h-6zM27 8h2v1h-2zM80 8h1v1h-1zM31 9h1v1h-1zM28 11h1v1h-1zM19 15h1v1h-1zM16 19h1v1h-1zM19 22h1v1h-1zM21 23h1v1h-1zM27 25h1v1h-1zM42 25h3v1h-3zM55 74h3v1h-3zM72 74h1v1h-1zM78 76h1v1h-1zM80 77h1v1h-1zM83 80h1v1h-1zM80 84h1v1h-1zM71 88h1v1h-1zM68 90h1v1h-1zM19 91h1v1h-1zM71 91h2v1h-2zM81 92h6v1h-6zM22 93h1v1h-1zM24 94h1v1h-1zM26 95h1v1h-1zM28 96h1v1h-1zM30 97h1v1h-1z"/>
<path fill="#2a788e" d="M70 2h1v1h-1zM72 3h1v1h-1zM74 4h1v1h-1zM76 5h1v1h-1zM23 8h2v1h-2zM29 9h1v1h-1zM82 9h1v1h-1zM83 10h1v1h-1zM84 12h1v1h-1zM16 18h1v1h-1zM78 19h1v1h-1zM16 20h1v1h-1zM64 23h1v1h-1zM58 24h1v1h-1zM26 25h1v1h-1zM47 25h2v1h-2zM31 26h6v1h-6zM63 73h6v1h-6zM51 74h2v1h-2zM73 74h1v1h-1zM41 75h1v1h-1zM35 76h1v1h-1zM83 79h1v1h-1zM21 80h1v1h-1zM83 81h1v1h-1zM15 87h1v1h-1zM16 89h1v1h-1zM17 90h1v1h-1zM70 90h1v1h-1zM75 91h2v1h-2zM23 94h1v1h-1zM25 95h1v1h-1zM27 96h1v1h-1zM29 97h1v1h-1z"/>
<path fill="#297a8e" d="M71 2h1v1h-1zM73 3h1v1h-1zM75 4h1v1h-1zM80 7h1v1h-1zM17 8h4v1h-4zM26 9h2v1h-2zM27 11h1v1h-1zM84 11h1v1h-1zM22 24h1v1h-1zM59 24h1v1h-1zM25 25h1v1h-1zM51 25h2v1h-2zM29 26h1v1h-1zM42 26h3v1h-3zM96 36h4v1h-4zM95 37h4v1h-4zM94 38h3v1h-3zM94 39h3v1h-3zM94 40h3v1h-3zM95 41h2v1h-2zM96 42h2v1h-2zM96 43h3v1h-3zM97 44h3v1h-3zM98 45h2v1h-2zM0 54h2v1h-2zM0 55h3v1h-3zM1 56h3v1h-3zM2 57h2v1h-2zM3 58h2v1h-2zM3 59h3v1h-3zM3 60h3v1h-3zM3 61h3v1h-3zM1 62h4v1h-4zM0 63h4v1h-4zM55 73h3v1h-3zM70 73h1v1h-1zM47 74h2v1h-2zM74 74h1v1h-1zM40 75h1v1h-1zM77 75h1v1h-1zM15 88h1v1h-1zM72 88h1v1h-1zM72 90h2v1h-2zM79 91h4v1h-4zM19 92h1v1h-1zM24 95h1v1h-1zM26 96h1v1h-1zM28 97h1v1h-1z"/>
<path fill="#25858e" d="M75 2h1v1h-1zM77 3h1v1h-1zM8 10h5v1h-5zM20 11h1v1h-1zM70 23h1v1h-1zM69 24h1v1h-1zM69 25h2v1h-2zM70 26h3v1h-3zM73 27h6v1h-6zM28 28h1v1h-1zM32 29h1v1h-1zM36 30h1v1h-1zM41 31h2v1h-2zM47 32h3v1h-3zM53 33h3v1h-3zM59 34h2v1h-2zM63 35h2v1h-2zM66 36h2v1h-2zM69 37h2v1h-2zM71 38h2v1h-2zM74 39h1v1h-1zM76 40h1v1h-1zM78 41h1v1h-1zM80 42h1v1h-1zM81 43h1v1h-1zM83 44h1v1h-1zM85 45h1v1h-1zM0 46h1v1h-1zM87 46h1v1h-1zM2 47h1v1h-1zM88 47h1v1h-1zM90 48h1v1h-1zM5 49h1v1h-1zM92 49h1v1h-1zM7 50h1v1h-1zM94 50h1v1h-1zM9 51h1v1h-1zM11 52h1v1h-1zM97 52h1v1h-1zM12 53h1v1h-1zM99 53h1v1h-1zM14 54h1v1h-1zM16 55h1v1h-1zM18 56h1v1h-1zM19 57h1v1h-1zM21 58h1v1h-1zM23 59h1v1h-1zM25 60h1v1h-1zM27 61h2v1h-2zM29 62h2v1h-2zM32 63h2v1h-2zM35 64h2v1h-2zM39 65h2v1h-2zM44 66h3v1h-3zM50 67h3v1h-3zM57 68h2v1h-2zM63 69h1v1h-1zM67 70h1v1h-1zM71 71h1v1h-1zM21 72h6v1h-6zM27 73h3v1h-3zM29 74h2v1h-2zM30 75h1v1h-1zM29 76h1v1h-1zM79 88h1v1h-1zM87 89h5v1h-5zM22 96h1v1h-1zM24 97h1v1h-1z"/>
<path fill="#228d8d" d="M77 2h1v1h-1zM84 7h1v1h-1zM15 12h1v1h-1zM18 13h1v1h-1zM86 14h1v1h-1zM79 20h1v1h-1zM77 22h1v1h-1zM79 23h2v1h-2zM84 24h5v1h-5zM23 28h1v1h-1zM26 29h1v1h-1zM29 30h1v1h-1zM36 32h1v1h-1zM40 33h1v1h-1zM44 34h2v1h-2zM48 35h2v1h-2zM52 36h2v1h-2zM56 37h1v1h-1zM59 38h2v1h-2zM62 39h2v1h-2zM65 40h1v1h-1zM68 41h1v1h-1zM70 42h1v1h-1zM73 43h1v1h-1zM75 44h1v1h-1zM77 45h1v1h-1zM80 46h1v1h-1zM7 47h1v1h-1zM82 47h1v1h-1zM9 48h1v1h-1zM84 48h1v1h-1zM11 49h1v1h-1zM86 49h1v1h-1zM13 50h1v1h-1zM88 50h1v1h-1zM15 51h1v1h-1zM90 51h1v1h-1zM17 52h1v1h-1zM92 52h1v1h-1zM19 53h1v1h-1zM22 54h1v1h-1zM24 55h1v1h-1zM26 56h1v1h-1zM29 57h1v1h-1zM31 58h1v1h-1zM34 59h1v1h-1zM36 60h2v1h-2zM39 61h2v1h-2zM43 62h1v1h-1zM46 63h2v1h-2zM50 64h2v1h-2zM54 65h2v1h-2zM59 66h1v1h-1zM63 67h1v1h-1zM70 69h1v1h-1zM73 70h1v1h-1zM76 71h1v1h-1zM11 75h5v1h-5zM19 76h2v1h-2zM22 77h1v1h-1zM20 79h1v1h-1zM13 85h1v1h-1zM81 86h1v1h-1zM84 87h1v1h-1zM15 92h1v1h-1zM22 97h1v1h-1z"/>
<path fill="#20928c" d="M78 2h1v1h-1zM87 11h1v1h-1zM12 13h2v1h-2zM16 14h1v1h-1zM14 17h1v1h-1zM82 19h1v1h-1zM81 20h1v1h-1zM82 21h2v1h-2zM87 22h5v1h-5zM28 31h1v1h-1zM31 32h1v1h-1zM35 33h1v1h-1zM38 34h1v1h-1zM42 35h1v1h-1zM45 36h1v1h-1zM48 37h2v1h-2zM52 38h1v1h-1zM55 39h1v1h-1zM58 40h1v1h-1zM61 41h1v1h-1zM64 42h1v1h-1zM67 43h1v1h-1zM69 44h1v1h-1zM6 45h1v1h-1zM72 45h1v1h-1zM8 46h1v1h-1zM10 47h1v1h-1zM77 47h1v1h-1zM15 49h1v1h-1zM82 49h1v1h-1zM17 50h1v1h-1zM84 50h1v1h-1zM22 52h1v1h-1zM89 52h1v1h-1zM91 53h1v1h-1zM27 54h1v1h-1zM93 54h1v1h-1zM30 55h1v1h-1zM32 56h1v1h-1zM35 57h1v1h-1zM38 58h1v1h-1zM41 59h1v1h-1zM44 60h1v1h-1zM47 61h1v1h-1zM50 62h2v1h-2zM54 63h1v1h-1zM57 64h1v1h-1zM61 65h1v1h-1zM64 66h1v1h-1zM68 67h1v1h-1zM71 68h1v1h-1zM8 77h5v1h-5zM16 78h2v1h-2zM18 79h1v1h-1zM17 80h1v1h-1zM85 82h1v1h-1zM83 85h1v1h-1zM86 86h2v1h-2zM12 88h1v1h-1zM21 97h1v1h-1z"/>
<path fill="#1f998a" d="M79 2h1v1h-1zM82 4h1v1h-1zM87 9h1v1h-1zM4 14h5v1h-5zM86 16h1v1h-1zM13 17h1v1h-1zM85 19h1v1h-1zM91 20h5v1h-5zM14 25h1v1h-1zM18 28h1v1h-1zM20 29h1v1h-1zM22 30h1v1h-1zM27 32h1v1h-1zM30 33h1v1h-1zM33 34h1v1h-1zM36 35h1v1h-1zM39 36h1v1h-1zM42 37h1v1h-1zM45 38h1v1h-1zM48 39h1v1h-1zM52 40h1v1h-1zM0 41h1v1h-1zM55 41h1v1h-1zM2 42h1v1h-1zM58 42h1v1h-1zM61 43h1v1h-1zM7 44h1v1h-1zM66 45h1v1h-1zM69 46h1v1h-1zM14 47h1v1h-1zM72 47h1v1h-1zM19 49h1v1h-1zM77 49h1v1h-1zM22 50h1v1h-1zM80 50h1v1h-1zM27 52h1v1h-1zM85 52h1v1h-1zM30 53h1v1h-1zM33 54h1v1h-1zM92 55h1v1h-1zM38 56h1v1h-1zM41 57h1v1h-1zM97 57h1v1h-1zM44 58h1v1h-1zM99 58h1v1h-1zM47 59h1v1h-1zM51 60h1v1h-1zM54 61h1v1h-1zM57 62h1v1h-1zM60 63h1v1h-1zM63 64h1v1h-1zM66 65h1v1h-1zM69 66h1v1h-1zM72 67h1v1h-1zM77 69h1v1h-1zM79 70h1v1h-1zM81 71h1v1h-1zM85 74h1v1h-1zM4 79h5v1h-5zM14 80h1v1h-1zM86 82h1v1h-1zM13 83h1v1h-1zM91 85h5v1h-5zM12 90h1v1h-1zM17 95h1v1h-1zM20 97h1v1h-1z"/>
<path fill="#1fa187" d="M80 2h1v1h-1zM83 4h1v1h-1zM88 15h1v1h-1zM9 16h2v1h-2zM89 17h1v1h-1zM11 19h1v1h-1zM18 29h1v1h-1zM26 33h1v1h-1zM31 35h1v1h-1zM34 36h1v1h-1zM37 37h1v1h-1zM0 40h1v1h-1zM55 43h1v1h-1zM58 44h1v1h-1zM13 45h1v1h-1zM61 45h1v1h-1zM21 48h1v1h-1zM24 49h1v1h-1zM72 49h1v1h-1zM27 50h1v1h-1zM75 50h1v1h-1zM78 51h1v1h-1zM38 54h1v1h-1zM86 54h1v1h-1zM41 55h1v1h-1zM44 56h1v1h-1zM99 59h1v1h-1zM62 62h1v1h-1zM65 63h1v1h-1zM68 64h1v1h-1zM73 66h1v1h-1zM81 70h1v1h-1zM88 80h1v1h-1zM10 82h1v1h-1zM89 83h2v1h-2zM11 84h1v1h-1zM16 95h1v1h-1zM19 97h1v1h-1z"/>
<path fill="#25ac82" d="M81 2h1v1h-1zM84 4h1v1h-1zM90 12h1v1h-1zM94 15h4v1h-4zM8 18h1v1h-1zM20 31h1v1h-1zM22 32h1v1h-1zM24 33h1v1h-1zM31 36h1v1h-1zM10 43h1v1h-1zM60 46h1v1h-1zM63 47h1v1h-1zM66 48h1v1h-1zM33 51h1v1h-1zM36 52h1v1h-1zM39 53h1v1h-1zM89 56h1v1h-1zM68 63h1v1h-1zM75 66h1v1h-1zM77 67h1v1h-1zM79 68h1v1h-1zM91 81h1v1h-1zM2 84h4v1h-4zM9 87h1v1h-1zM15 95h1v1h-1zM18 97h1v1h-1z"/>
<path fill="#34b679" d="M82 2h1v1h-1zM85 4h1v1h-1zM91 10h1v1h-1zM92 11h1v1h-1zM95 12h5v1h-5zM3 40h1v1h-1zM51 44h1v1h-1zM17 45h1v1h-1zM58 46h1v1h-1zM67 49h1v1h-1zM32 50h1v1h-1zM41 53h1v1h-1zM82 54h1v1h-1zM48 55h1v1h-1zM96 59h1v1h-1zM0 87h5v1h-5zM7 88h1v1h-1zM8 89h1v1h-1zM14 95h1v1h-1zM17 97h1v1h-1z"/>
<path fill="#46c06f" d="M83 2h1v1h-1zM98 9h2v1h-2zM8 23h1v1h-1zM9 24h1v1h-1zM24 34h1v1h-1zM39 40h1v1h-1zM18 45h1v1h-1zM21 46h1v1h-1zM63 48h1v1h-1zM36 51h1v1h-1zM78 53h1v1h-1zM81 54h1v1h-1zM60 59h1v1h-1zM75 65h1v1h-1zM90 75h1v1h-1zM91 76h1v1h-1zM0 90h2v1h-2zM16 97h1v1h-1z"/>
<path fill="#56c667" d="M84 2h1v1h-1zM92 6h8v1h-8zM0 23h2v1h-2zM9 25h1v1h-1zM90 74h1v1h-1zM98 76h2v1h-2zM0 93h8v1h-8zM15 97h1v1h-1z"/>
<path fill="#65cb5e" d="M86 2h1v1h-1zM90 3h10v1h-10zM12 28h1v1h-1zM17 31h1v1h-1zM23 34h1v1h-1zM30 37h1v1h-1zM69 62h1v1h-1zM76 65h1v1h-1zM82 68h1v1h-1zM87 71h1v1h-1zM0 96h10v1h-10zM13 97h1v1h-1z"/>
<path fill="#26828e" d="M76 3h1v1h-1zM81 6h1v1h-1zM18 10h2v1h-2zM23 11h1v1h-1zM81 18h1v1h-1zM77 20h1v1h-1zM66 24h1v1h-1zM64 25h1v1h-1zM23 26h1v1h-1zM63 26h2v1h-2zM26 27h1v1h-1zM63 27h3v1h-3zM30 28h1v1h-1zM63 28h5v1h-5zM35 29h1v1h-1zM64 29h36v1h-36zM41 30h2v1h-2zM49 31h10v1h-10zM59 32h7v1h-7zM64 33h5v1h-5zM68 34h3v1h-3zM71 35h3v1h-3zM73 36h2v1h-2zM75 37h2v1h-2zM77 38h1v1h-1zM78 39h2v1h-2zM80 40h1v1h-1zM82 41h1v1h-1zM83 42h1v1h-1zM85 43h1v1h-1zM86 44h1v1h-1zM88 45h1v1h-1zM89 46h1v1h-1zM0 47h1v1h-1zM91 47h1v1h-1zM93 48h1v1h-1zM3 49h1v1h-1zM94 49h1v1h-1zM5 50h1v1h-1zM96 50h1v1h-1zM6 51h1v1h-1zM8 52h1v1h-1zM99 52h1v1h-1zM10 53h1v1h-1zM11 54h1v1h-1zM13 55h1v1h-1zM14 56h1v1h-1zM16 57h1v1h-1zM17 58h1v1h-1zM19 59h1v1h-1zM20 60h2v1h-2zM22 61h1v1h-1zM23 62h2v1h-2zM25 63h2v1h-2zM26 64h3v1h-3zM29 65h3v1h-3zM31 66h5v1h-5zM34 67h7v1h-7zM41 68h10v1h-10zM57 69h2v1h-2zM0 70h36v1h-36zM64 70h1v1h-1zM32 71h5v1h-5zM69 71h1v1h-1zM34 72h3v1h-3zM73 72h1v1h-1zM35 73h2v1h-2zM76 73h1v1h-1zM35 74h1v1h-1zM33 75h1v1h-1zM22 79h1v1h-1zM18 81h1v1h-1zM76 88h1v1h-1zM80 89h2v1h-2zM18 93h1v1h-1zM23 96h1v1h-1z"/>
<path fill="#238a8d" d="M78 3h1v1h-1zM10 11h3v1h-3zM19 12h1v1h-1zM14 22h1v1h-1zM75 22h1v1h-1zM75 23h1v1h-1zM16 24h1v1h-1zM76 24h2v1h-2zM81 25h6v1h-6zM22 27h1v1h-1zM28 29h1v1h-1zM31 30h1v1h-1zM35 31h1v1h-1zM39 32h2v1h-2zM44 33h1v1h-1zM48 34h2v1h-2zM53 35h1v1h-1zM57 36h1v1h-1zM60 37h2v1h-2zM63 38h2v1h-2zM66 39h2v1h-2zM69 40h1v1h-1zM71 41h2v1h-2zM74 42h1v1h-1zM76 43h1v1h-1zM78 44h1v1h-1zM1 45h1v1h-1zM80 45h1v1h-1zM3 46h1v1h-1zM82 46h1v1h-1zM5 47h1v1h-1zM84 47h1v1h-1zM7 48h1v1h-1zM86 48h1v1h-1zM9 49h1v1h-1zM88 49h1v1h-1zM11 50h1v1h-1zM90 50h1v1h-1zM13 51h1v1h-1zM92 51h1v1h-1zM15 52h1v1h-1zM94 52h1v1h-1zM17 53h1v1h-1zM96 53h1v1h-1zM19 54h1v1h-1zM98 54h1v1h-1zM21 55h1v1h-1zM23 56h1v1h-1zM25 57h1v1h-1zM27 58h2v1h-2zM30 59h1v1h-1zM32 60h2v1h-2zM35 61h2v1h-2zM38 62h2v1h-2zM42 63h1v1h-1zM46 64h1v1h-1zM50 65h2v1h-2zM55 66h1v1h-1zM59 67h2v1h-2zM64 68h1v1h-1zM68 69h1v1h-1zM71 70h1v1h-1zM77 72h1v1h-1zM13 74h6v1h-6zM22 75h2v1h-2zM83 75h1v1h-1zM24 76h1v1h-1zM24 77h1v1h-1zM85 77h1v1h-1zM80 87h1v1h-1zM87 88h3v1h-3zM21 96h1v1h-1z"/>
<path fill="#218f8d" d="M79 3h1v1h-1zM82 5h1v1h-1zM9 12h3v1h-3zM17 13h1v1h-1zM17 14h1v1h-1zM81 19h1v1h-1zM13 20h1v1h-1zM79 22h2v1h-2zM14 23h1v1h-1zM83 23h4v1h-4zM16 25h1v1h-1zM22 28h1v1h-1zM25 29h1v1h-1zM28 30h1v1h-1zM31 31h1v1h-1zM38 33h1v1h-1zM42 34h1v1h-1zM46 35h1v1h-1zM49 36h2v1h-2zM53 37h1v1h-1zM57 38h1v1h-1zM60 39h1v1h-1zM63 40h1v1h-1zM65 41h2v1h-2zM68 42h1v1h-1zM71 43h1v1h-1zM73 44h1v1h-1zM76 45h1v1h-1zM6 46h1v1h-1zM78 46h1v1h-1zM8 47h1v1h-1zM80 47h1v1h-1zM10 48h1v1h-1zM12 49h1v1h-1zM85 49h1v1h-1zM14 50h1v1h-1zM87 50h1v1h-1zM89 51h1v1h-1zM19 52h1v1h-1zM91 52h1v1h-1zM21 53h1v1h-1zM93 53h1v1h-1zM23 54h1v1h-1zM26 55h1v1h-1zM28 56h1v1h-1zM31 57h1v1h-1zM33 58h2v1h-2zM36 59h1v1h-1zM39 60h1v1h-1zM42 61h1v1h-1zM46 62h1v1h-1zM49 63h2v1h-2zM53 64h1v1h-1zM57 65h1v1h-1zM61 66h1v1h-1zM68 68h1v1h-1zM71 69h1v1h-1zM74 70h1v1h-1zM77 71h1v1h-1zM83 74h1v1h-1zM13 76h4v1h-4zM85 76h1v1h-1zM19 77h2v1h-2zM86 79h1v1h-1zM18 80h1v1h-1zM82 85h1v1h-1zM82 86h1v1h-1zM88 87h3v1h-3zM17 94h1v1h-1zM20 96h1v1h-1z"/>
<path fill="#1f958b" d="M80 3h1v1h-1zM87 10h1v1h-1zM0 13h5v1h-5zM14 14h1v1h-1zM13 18h1v1h-1zM83 19h1v1h-1zM83 20h2v1h-2zM88 21h5v1h-5zM13 23h1v1h-1zM16 26h1v1h-1zM29 32h1v1h-1zM39 35h1v1h-1zM42 36h1v1h-1zM49 38h1v1h-1zM52 39h1v1h-1zM55 40h1v1h-1zM58 41h1v1h-1zM61 42h1v1h-1zM64 43h1v1h-1zM5 44h1v1h-1zM67 44h1v1h-1zM69 45h1v1h-1zM72 46h1v1h-1zM12 47h1v1h-1zM75 47h1v1h-1zM77 48h1v1h-1zM17 49h1v1h-1zM80 49h1v1h-1zM19 50h1v1h-1zM82 50h1v1h-1zM22 51h1v1h-1zM24 52h1v1h-1zM87 52h1v1h-1zM27 53h1v1h-1zM30 54h1v1h-1zM32 55h1v1h-1zM94 55h1v1h-1zM35 56h1v1h-1zM38 57h1v1h-1zM41 58h1v1h-1zM44 59h1v1h-1zM47 60h1v1h-1zM50 61h1v1h-1zM57 63h1v1h-1zM60 64h1v1h-1zM70 67h1v1h-1zM83 73h1v1h-1zM86 76h1v1h-1zM7 78h5v1h-5zM15 79h2v1h-2zM16 80h1v1h-1zM86 81h1v1h-1zM85 85h1v1h-1zM95 86h5v1h-5zM12 89h1v1h-1zM19 96h1v1h-1z"/>
<path fill="#1e9d89" d="M81 3h1v1h-1zM85 6h1v1h-1zM88 13h1v1h-1zM9 15h2v1h-2zM12 18h1v1h-1zM87 18h1v1h-1zM94 19h6v1h-6zM12 23h1v1h-1zM19 29h1v1h-1zM23 31h1v1h-1zM28 33h1v1h-1zM52 41h1v1h-1zM55 42h1v1h-1zM6 43h1v1h-1zM58 43h1v1h-1zM61 44h1v1h-1zM11 45h1v1h-1zM16 47h1v1h-1zM69 47h1v1h-1zM19 48h1v1h-1zM72 48h1v1h-1zM27 51h1v1h-1zM80 51h1v1h-1zM30 52h1v1h-1zM83 52h1v1h-1zM88 54h1v1h-1zM38 55h1v1h-1zM41 56h1v1h-1zM93 56h1v1h-1zM44 57h1v1h-1zM47 58h1v1h-1zM71 66h1v1h-1zM76 68h1v1h-1zM80 70h1v1h-1zM87 76h1v1h-1zM0 80h6v1h-6zM12 81h1v1h-1zM87 81h1v1h-1zM89 84h2v1h-2zM11 86h1v1h-1zM14 93h1v1h-1zM18 96h1v1h-1z"/>
<path fill="#21a685" d="M82 3h1v1h-1zM90 16h1v1h-1zM11 23h1v1h-1zM19 30h1v1h-1zM35 37h1v1h-1zM1 40h1v1h-1zM9 43h1v1h-1zM20 47h1v1h-1zM23 48h1v1h-1zM76 51h1v1h-1zM79 52h1v1h-1zM90 56h1v1h-1zM98 59h1v1h-1zM64 62h1v1h-1zM80 69h1v1h-1zM88 76h1v1h-1zM9 83h1v1h-1zM17 96h1v1h-1z"/>
<path fill="#2ab07f" d="M83 3h1v1h-1zM90 10h1v1h-1zM98 14h2v1h-2zM8 19h1v1h-1zM10 23h1v1h-1zM41 40h1v1h-1zM59 46h1v1h-1zM62 47h1v1h-1zM65 48h1v1h-1zM34 51h1v1h-1zM37 52h1v1h-1zM40 53h1v1h-1zM58 59h1v1h-1zM89 76h1v1h-1zM91 80h1v1h-1zM0 85h2v1h-2zM9 89h1v1h-1zM16 96h1v1h-1z"/>
<path fill="#3bbb75" d="M84 3h1v1h-1zM9 42h1v1h-1zM90 57h1v1h-1zM15 96h1v1h-1z"/>
<path fill="#4cc26c" d="M85 3h1v1h-1zM88 5h1v1h-1zM91 7h1v1h-1zM97 8h3v1h-3zM26 35h1v1h-1zM73 64h1v1h-1zM0 91h3v1h-3zM8 92h1v1h-1zM11 94h1v1h-1zM14 96h1v1h-1z"/>
<path fill="#58c765" d="M86 3h1v1h-1zM90 5h1v1h-1zM10 26h1v1h-1zM28 36h1v1h-1zM33 38h1v1h-1zM41 41h1v1h-1zM10 42h1v1h-1zM53 45h1v1h-1zM46 54h1v1h-1zM89 57h1v1h-1zM58 58h1v1h-1zM66 61h1v1h-1zM71 63h1v1h-1zM89 73h1v1h-1zM9 94h1v1h-1zM13 96h1v1h-1z"/>
<path fill="#5ec962" d="M87 3h1v1h-1zM89 4h2v1h-2zM3 24h3v1h-3zM11 27h1v1h-1zM49 44h1v1h-1zM62 48h1v1h-1zM37 51h1v1h-1zM50 55h1v1h-1zM88 72h1v1h-1zM94 75h3v1h-3zM9 95h2v1h-2zM12 96h1v1h-1z"/>
<path fill="#25838e" d="M78 4h1v1h-1zM16 10h2v1h-2zM22 11h1v1h-1zM85 14h1v1h-1zM69 23h1v1h-1zM18 24h1v1h-1zM67 24h1v1h-1zM20 25h1v1h-1zM65 25h2v1h-2zM65 26h3v1h-3zM66 27h3v1h-3zM29 28h1v1h-1zM68 28h6v1h-6zM34 29h1v1h-1zM39 30h2v1h-2zM45 31h4v1h-4zM54 32h5v1h-5zM60 33h4v1h-4zM64 34h4v1h-4zM68 35h3v1h-3zM71 36h2v1h-2zM73 37h2v1h-2zM75 38h2v1h-2zM77 39h1v1h-1zM79 40h1v1h-1zM80 41h2v1h-2zM82 42h1v1h-1zM84 43h1v1h-1zM85 44h1v1h-1zM87 45h1v1h-1zM90 47h1v1h-1zM2 48h1v1h-1zM92 48h1v1h-1zM4 49h1v1h-1zM95 50h1v1h-1zM7 51h1v1h-1zM97 51h1v1h-1zM9 52h1v1h-1zM12 54h1v1h-1zM14 55h1v1h-1zM15 56h1v1h-1zM17 57h1v1h-1zM18 58h2v1h-2zM20 59h1v1h-1zM22 60h1v1h-1zM23 61h2v1h-2zM25 62h2v1h-2zM27 63h2v1h-2zM29 64h3v1h-3zM32 65h4v1h-4zM36 66h4v1h-4zM41 67h5v1h-5zM51 68h4v1h-4zM59 69h2v1h-2zM65 70h1v1h-1zM26 71h6v1h-6zM70 71h1v1h-1zM31 72h3v1h-3zM32 73h3v1h-3zM33 74h2v1h-2zM79 74h1v1h-1zM32 75h1v1h-1zM81 75h1v1h-1zM30 76h1v1h-1zM14 85h1v1h-1zM77 88h1v1h-1zM82 89h2v1h-2zM21 95h1v1h-1z"/>
<path fill="#24878e" d="M79 4h1v1h-1zM82 6h1v1h-1zM84 8h1v1h-1zM17 11h2v1h-2zM20 13h1v1h-1zM14 19h1v1h-1zM14 21h1v1h-1zM71 24h2v1h-2zM73 25h2v1h-2zM76 26h5v1h-5zM30 29h1v1h-1zM34 30h1v1h-1zM39 31h1v1h-1zM44 32h1v1h-1zM49 33h2v1h-2zM54 34h2v1h-2zM58 35h2v1h-2zM62 36h2v1h-2zM65 37h2v1h-2zM68 38h2v1h-2zM71 39h1v1h-1zM73 40h1v1h-1zM75 41h1v1h-1zM77 42h1v1h-1zM79 43h1v1h-1zM81 44h1v1h-1zM83 45h1v1h-1zM1 46h1v1h-1zM85 46h1v1h-1zM3 47h1v1h-1zM87 47h1v1h-1zM5 48h1v1h-1zM7 49h1v1h-1zM92 50h1v1h-1zM94 51h1v1h-1zM12 52h1v1h-1zM96 52h1v1h-1zM14 53h1v1h-1zM98 53h1v1h-1zM16 54h1v1h-1zM18 55h1v1h-1zM20 56h1v1h-1zM22 57h1v1h-1zM24 58h1v1h-1zM26 59h1v1h-1zM28 60h1v1h-1zM30 61h2v1h-2zM33 62h2v1h-2zM36 63h2v1h-2zM40 64h2v1h-2zM44 65h2v1h-2zM49 66h2v1h-2zM55 67h1v1h-1zM60 68h1v1h-1zM65 69h1v1h-1zM69 70h1v1h-1zM19 73h5v1h-5zM25 74h2v1h-2zM27 75h2v1h-2zM85 78h1v1h-1zM85 80h1v1h-1zM79 86h1v1h-1zM81 88h2v1h-2zM15 91h1v1h-1zM17 93h1v1h-1zM20 95h1v1h-1z"/>
<path fill="#20928c" d="M81 4h1v1h-1zM87 12h1v1h-1zM14 13h1v1h-1zM85 16h1v1h-1zM84 17h1v1h-1zM83 18h1v1h-1zM81 21h1v1h-1zM13 22h1v1h-1zM85 22h2v1h-2zM23 29h1v1h-1zM26 30h1v1h-1zM29 31h1v1h-1zM32 32h1v1h-1zM39 34h1v1h-1zM43 35h1v1h-1zM46 36h1v1h-1zM50 37h1v1h-1zM53 38h1v1h-1zM56 39h1v1h-1zM59 40h1v1h-1zM62 41h1v1h-1zM65 42h1v1h-1zM1 43h1v1h-1zM68 43h1v1h-1zM3 44h1v1h-1zM70 44h1v1h-1zM5 45h1v1h-1zM73 45h1v1h-1zM75 46h1v1h-1zM78 47h1v1h-1zM12 48h1v1h-1zM80 48h1v1h-1zM14 49h1v1h-1zM85 50h1v1h-1zM19 51h1v1h-1zM87 51h1v1h-1zM21 52h1v1h-1zM24 53h1v1h-1zM26 54h1v1h-1zM94 54h1v1h-1zM29 55h1v1h-1zM96 55h1v1h-1zM31 56h1v1h-1zM98 56h1v1h-1zM34 57h1v1h-1zM37 58h1v1h-1zM40 59h1v1h-1zM43 60h1v1h-1zM46 61h1v1h-1zM49 62h1v1h-1zM53 63h1v1h-1zM56 64h1v1h-1zM60 65h1v1h-1zM67 67h1v1h-1zM70 68h1v1h-1zM73 69h1v1h-1zM76 70h1v1h-1zM13 77h2v1h-2zM86 77h1v1h-1zM18 78h1v1h-1zM16 81h1v1h-1zM15 82h1v1h-1zM14 83h1v1h-1zM85 86h1v1h-1zM12 87h1v1h-1zM18 95h1v1h-1z"/>
<path fill="#44bf70" d="M86 4h1v1h-1zM90 7h1v1h-1zM94 9h4v1h-4zM7 22h1v1h-1zM10 25h1v1h-1zM11 26h1v1h-1zM20 32h1v1h-1zM22 33h1v1h-1zM15 44h1v1h-1zM24 47h1v1h-1zM60 47h1v1h-1zM66 49h1v1h-1zM33 50h1v1h-1zM39 52h1v1h-1zM75 52h1v1h-1zM84 55h1v1h-1zM77 66h1v1h-1zM79 67h1v1h-1zM88 73h1v1h-1zM89 74h1v1h-1zM92 77h1v1h-1zM2 90h4v1h-4zM9 92h1v1h-1zM13 95h1v1h-1z"/>
<path fill="#52c569" d="M87 4h1v1h-1zM6 23h1v1h-1zM8 24h1v1h-1zM7 41h1v1h-1zM92 58h1v1h-1zM91 75h1v1h-1zM93 76h1v1h-1zM12 95h1v1h-1z"/>
<path fill="#5ac864" d="M88 4h1v1h-1zM91 5h9v1h-9zM7 24h1v1h-1zM14 29h1v1h-1zM85 70h1v1h-1zM92 75h1v1h-1zM0 94h9v1h-9zM11 95h1v1h-1z"/>
<path fill="#277e8e" d="M78 5h1v1h-1zM81 7h1v1h-1zM19 9h2v1h-2zM25 10h1v1h-1zM84 10h1v1h-1zM17 16h1v1h-1zM83 16h1v1h-1zM15 19h1v1h-1zM70 22h1v1h-1zM18 23h1v1h-1zM66 23h1v1h-1zM20 24h1v1h-1zM62 24h1v1h-1zM57 25h2v1h-2zM26 26h1v1h-1zM53 26h2v1h-2zM30 27h1v1h-1zM47 27h4v1h-4zM36 28h6v1h-6zM93 32h7v1h-7zM89 33h4v1h-4zM86 34h4v1h-4zM85 35h3v1h-3zM85 36h2v1h-2zM85 37h2v1h-2zM86 38h2v1h-2zM86 39h2v1h-2zM87 40h2v1h-2zM88 41h2v1h-2zM89 42h2v1h-2zM91 43h1v1h-1zM92 44h1v1h-1zM93 45h1v1h-1zM94 46h2v1h-2zM96 47h1v1h-1zM97 48h1v1h-1zM2 51h1v1h-1zM3 52h1v1h-1zM4 53h2v1h-2zM6 54h1v1h-1zM7 55h1v1h-1zM8 56h1v1h-1zM9 57h2v1h-2zM10 58h2v1h-2zM11 59h2v1h-2zM12 60h2v1h-2zM12 61h2v1h-2zM13 62h2v1h-2zM13 63h2v1h-2zM12 64h3v1h-3zM10 65h4v1h-4zM7 66h4v1h-4zM0 67h7v1h-7zM58 71h6v1h-6zM49 72h4v1h-4zM69 72h1v1h-1zM45 73h2v1h-2zM73 73h1v1h-1zM41 74h2v1h-2zM37 75h1v1h-1zM79 75h1v1h-1zM33 76h1v1h-1zM81 76h1v1h-1zM29 77h1v1h-1zM84 80h1v1h-1zM16 83h1v1h-1zM82 83h1v1h-1zM15 89h1v1h-1zM74 89h1v1h-1zM79 90h2v1h-2zM18 92h1v1h-1zM21 94h1v1h-1z"/>
<path fill="#26818e" d="M79 5h1v1h-1zM5 9h8v1h-8zM22 10h1v1h-1zM24 11h1v1h-1zM85 11h1v1h-1zM23 12h1v1h-1zM18 15h1v1h-1zM15 21h1v1h-1zM74 21h1v1h-1zM19 24h1v1h-1zM64 24h1v1h-1zM61 25h2v1h-2zM24 26h1v1h-1zM59 26h2v1h-2zM57 27h3v1h-3zM32 28h1v1h-1zM54 28h4v1h-4zM37 29h3v1h-3zM45 29h10v1h-10zM91 30h9v1h-9zM78 31h10v1h-10zM74 32h8v1h-8zM74 33h5v1h-5zM75 34h4v1h-4zM77 35h2v1h-2zM78 36h2v1h-2zM79 37h2v1h-2zM80 38h2v1h-2zM82 39h1v1h-1zM83 40h1v1h-1zM84 41h2v1h-2zM86 42h1v1h-1zM87 43h1v1h-1zM88 44h1v1h-1zM90 45h1v1h-1zM91 46h1v1h-1zM93 47h1v1h-1zM0 48h1v1h-1zM94 48h1v1h-1zM96 49h1v1h-1zM3 50h1v1h-1zM5 51h1v1h-1zM99 51h1v1h-1zM6 52h1v1h-1zM8 53h1v1h-1zM9 54h1v1h-1zM11 55h1v1h-1zM12 56h1v1h-1zM13 57h1v1h-1zM14 58h2v1h-2zM16 59h1v1h-1zM17 60h1v1h-1zM18 61h2v1h-2zM19 62h2v1h-2zM20 63h2v1h-2zM21 64h2v1h-2zM21 65h4v1h-4zM21 66h5v1h-5zM18 67h8v1h-8zM12 68h10v1h-10zM0 69h9v1h-9zM45 70h10v1h-10zM60 70h3v1h-3zM42 71h4v1h-4zM67 71h1v1h-1zM40 72h3v1h-3zM39 73h2v1h-2zM75 73h1v1h-1zM37 74h2v1h-2zM35 75h1v1h-1zM80 75h1v1h-1zM25 78h1v1h-1zM84 78h1v1h-1zM81 84h1v1h-1zM76 87h1v1h-1zM14 88h1v1h-1zM75 88h1v1h-1zM77 89h1v1h-1zM87 90h8v1h-8zM20 94h1v1h-1z"/>
<path fill="#23898e" d="M81 5h1v1h-1zM13 11h2v1h-2zM86 11h1v1h-1zM86 13h1v1h-1zM17 15h1v1h-1zM85 15h1v1h-1zM15 17h1v1h-1zM83 17h1v1h-1zM80 19h1v1h-1zM15 23h1v1h-1zM73 23h2v1h-2zM74 24h2v1h-2zM18 25h1v1h-1zM78 25h3v1h-3zM20 26h1v1h-1zM92 26h8v1h-8zM25 28h1v1h-1zM32 30h1v1h-1zM36 31h1v1h-1zM41 32h1v1h-1zM45 33h2v1h-2zM50 34h2v1h-2zM54 35h2v1h-2zM58 36h2v1h-2zM62 37h2v1h-2zM65 38h1v1h-1zM68 39h1v1h-1zM70 40h2v1h-2zM73 41h1v1h-1zM75 42h1v1h-1zM77 43h1v1h-1zM79 44h1v1h-1zM81 45h1v1h-1zM83 46h1v1h-1zM4 47h1v1h-1zM85 47h1v1h-1zM6 48h1v1h-1zM87 48h1v1h-1zM8 49h1v1h-1zM89 49h1v1h-1zM10 50h1v1h-1zM91 50h1v1h-1zM12 51h1v1h-1zM93 51h1v1h-1zM14 52h1v1h-1zM95 52h1v1h-1zM16 53h1v1h-1zM18 54h1v1h-1zM20 55h1v1h-1zM22 56h1v1h-1zM24 57h1v1h-1zM26 58h1v1h-1zM28 59h2v1h-2zM31 60h1v1h-1zM34 61h1v1h-1zM36 62h2v1h-2zM40 63h2v1h-2zM44 64h2v1h-2zM48 65h2v1h-2zM53 66h2v1h-2zM58 67h1v1h-1zM63 68h1v1h-1zM67 69h1v1h-1zM74 71h1v1h-1zM0 73h8v1h-8zM79 73h1v1h-1zM19 74h3v1h-3zM81 74h1v1h-1zM24 75h2v1h-2zM25 76h2v1h-2zM84 76h1v1h-1zM19 80h1v1h-1zM16 82h1v1h-1zM84 82h1v1h-1zM14 84h1v1h-1zM82 84h1v1h-1zM13 86h1v1h-1zM13 88h1v1h-1zM85 88h2v1h-2zM18 94h1v1h-1z"/>
<path fill="#1f9f88" d="M84 5h1v1h-1zM87 8h1v1h-1zM88 10h1v1h-1zM88 14h1v1h-1zM0 15h6v1h-6zM12 16h1v1h-1zM87 16h1v1h-1zM12 17h1v1h-1zM87 17h1v1h-1zM89 18h2v1h-2zM27 33h1v1h-1zM38 37h1v1h-1zM41 38h1v1h-1zM44 39h1v1h-1zM47 40h1v1h-1zM12 45h1v1h-1zM65 46h1v1h-1zM17 47h1v1h-1zM68 47h1v1h-1zM20 48h1v1h-1zM71 48h1v1h-1zM28 51h1v1h-1zM79 51h1v1h-1zM31 52h1v1h-1zM82 52h1v1h-1zM34 53h1v1h-1zM87 54h1v1h-1zM52 59h1v1h-1zM55 60h1v1h-1zM58 61h1v1h-1zM61 62h1v1h-1zM72 66h1v1h-1zM9 81h2v1h-2zM12 82h1v1h-1zM87 82h1v1h-1zM12 83h1v1h-1zM87 83h1v1h-1zM94 84h6v1h-6zM11 85h1v1h-1zM11 89h1v1h-1zM12 91h1v1h-1zM15 94h1v1h-1z"/>
<path fill="#3dbc74" d="M87 5h1v1h-1zM93 10h1v1h-1zM6 21h1v1h-1zM8 22h1v1h-1zM29 36h1v1h-1zM54 45h1v1h-1zM45 54h1v1h-1zM70 63h1v1h-1zM91 77h1v1h-1zM93 78h1v1h-1zM6 89h1v1h-1zM12 94h1v1h-1z"/>
<path fill="#287c8e" d="M79 6h1v1h-1zM0 8h12v1h-12zM23 9h2v1h-2zM83 9h1v1h-1zM27 10h1v1h-1zM22 13h1v1h-1zM76 20h1v1h-1zM16 21h1v1h-1zM17 22h1v1h-1zM21 24h1v1h-1zM55 25h1v1h-1zM27 26h1v1h-1zM48 26h2v1h-2zM32 27h1v1h-1zM36 27h7v1h-7zM99 33h1v1h-1zM93 34h6v1h-6zM91 35h4v1h-4zM90 36h3v1h-3zM90 37h2v1h-2zM90 38h2v1h-2zM90 39h2v1h-2zM91 40h1v1h-1zM91 41h2v1h-2zM92 42h2v1h-2zM93 43h2v1h-2zM94 44h2v1h-2zM96 45h1v1h-1zM97 46h1v1h-1zM98 47h1v1h-1zM99 48h1v1h-1zM0 51h1v1h-1zM1 52h1v1h-1zM2 53h1v1h-1zM3 54h1v1h-1zM4 55h2v1h-2zM5 56h2v1h-2zM6 57h2v1h-2zM7 58h2v1h-2zM8 59h1v1h-1zM8 60h2v1h-2zM8 61h2v1h-2zM8 62h2v1h-2zM7 63h3v1h-3zM5 64h4v1h-4zM1 65h6v1h-6zM0 66h1v1h-1zM57 72h7v1h-7zM67 72h1v1h-1zM50 73h2v1h-2zM72 73h1v1h-1zM44 74h1v1h-1zM78 75h1v1h-1zM82 77h1v1h-1zM83 78h1v1h-1zM23 79h1v1h-1zM77 86h1v1h-1zM72 89h1v1h-1zM16 90h1v1h-1zM75 90h2v1h-2zM88 91h12v1h-12zM20 93h1v1h-1z"/>
<path fill="#218e8d" d="M83 6h1v1h-1zM85 8h1v1h-1zM12 12h3v1h-3zM78 21h1v1h-1zM78 22h1v1h-1zM81 23h2v1h-2zM15 24h1v1h-1zM89 24h11v1h-11zM18 26h1v1h-1zM20 27h1v1h-1zM32 31h1v1h-1zM35 32h1v1h-1zM39 33h1v1h-1zM43 34h1v1h-1zM47 35h1v1h-1zM51 36h1v1h-1zM54 37h2v1h-2zM58 38h1v1h-1zM61 39h1v1h-1zM64 40h1v1h-1zM67 41h1v1h-1zM69 42h1v1h-1zM72 43h1v1h-1zM1 44h1v1h-1zM74 44h1v1h-1zM3 45h1v1h-1zM5 46h1v1h-1zM79 46h1v1h-1zM81 47h1v1h-1zM83 48h1v1h-1zM16 51h1v1h-1zM18 52h1v1h-1zM20 53h1v1h-1zM94 53h1v1h-1zM96 54h1v1h-1zM25 55h1v1h-1zM98 55h1v1h-1zM27 56h1v1h-1zM30 57h1v1h-1zM32 58h1v1h-1zM35 59h1v1h-1zM38 60h1v1h-1zM41 61h1v1h-1zM44 62h2v1h-2zM48 63h1v1h-1zM52 64h1v1h-1zM56 65h1v1h-1zM60 66h1v1h-1zM64 67h1v1h-1zM67 68h1v1h-1zM79 72h1v1h-1zM81 73h1v1h-1zM0 75h11v1h-11zM84 75h1v1h-1zM17 76h2v1h-2zM21 77h1v1h-1zM21 78h1v1h-1zM85 87h3v1h-3zM14 91h1v1h-1zM16 93h1v1h-1z"/>
<path fill="#1f948c" d="M84 6h1v1h-1zM85 7h1v1h-1zM5 13h4v1h-4zM15 14h1v1h-1zM15 15h1v1h-1zM82 20h1v1h-1zM86 21h2v1h-2zM24 30h1v1h-1zM27 31h1v1h-1zM30 32h1v1h-1zM33 33h1v1h-1zM36 34h1v1h-1zM40 35h1v1h-1zM43 36h1v1h-1zM46 37h1v1h-1zM50 38h1v1h-1zM53 39h1v1h-1zM56 40h1v1h-1zM59 41h1v1h-1zM0 42h1v1h-1zM62 42h1v1h-1zM65 43h1v1h-1zM68 44h1v1h-1zM7 45h1v1h-1zM70 45h1v1h-1zM9 46h1v1h-1zM73 46h1v1h-1zM14 48h1v1h-1zM78 48h1v1h-1zM16 49h1v1h-1zM83 50h1v1h-1zM21 51h1v1h-1zM85 51h1v1h-1zM26 53h1v1h-1zM90 53h1v1h-1zM29 54h1v1h-1zM92 54h1v1h-1zM31 55h1v1h-1zM34 56h1v1h-1zM37 57h1v1h-1zM99 57h1v1h-1zM40 58h1v1h-1zM43 59h1v1h-1zM46 60h1v1h-1zM49 61h1v1h-1zM53 62h1v1h-1zM56 63h1v1h-1zM59 64h1v1h-1zM63 65h1v1h-1zM66 66h1v1h-1zM69 67h1v1h-1zM72 68h1v1h-1zM75 69h1v1h-1zM12 78h2v1h-2zM17 79h1v1h-1zM84 84h1v1h-1zM84 85h1v1h-1zM91 86h4v1h-4zM14 92h1v1h-1zM15 93h1v1h-1z"/>
<path fill="#22a785" d="M86 6h1v1h-1zM87 7h1v1h-1zM91 16h3v1h-3zM8 17h2v1h-2zM27 34h1v1h-1zM32 36h1v1h-1zM46 41h1v1h-1zM49 42h1v1h-1zM52 43h1v1h-1zM26 49h1v1h-1zM70 49h1v1h-1zM29 50h1v1h-1zM73 50h1v1h-1zM47 56h1v1h-1zM50 57h1v1h-1zM53 58h1v1h-1zM67 63h1v1h-1zM72 65h1v1h-1zM90 82h2v1h-2zM6 83h3v1h-3zM12 92h1v1h-1zM13 93h1v1h-1z"/>
<path fill="#2cb17e" d="M87 6h1v1h-1zM88 7h1v1h-1zM91 12h1v1h-1zM92 13h1v1h-1zM7 19h1v1h-1zM9 21h1v1h-1zM8 42h1v1h-1zM49 43h1v1h-1zM50 56h1v1h-1zM91 57h1v1h-1zM90 78h1v1h-1zM92 80h1v1h-1zM7 86h1v1h-1zM8 87h1v1h-1zM11 92h1v1h-1zM12 93h1v1h-1z"/>
<path fill="#3aba76" d="M88 6h1v1h-1zM89 7h1v1h-1zM90 8h1v1h-1zM91 9h1v1h-1zM92 10h1v1h-1zM96 11h4v1h-4zM7 21h1v1h-1zM37 39h1v1h-1zM45 42h1v1h-1zM54 57h1v1h-1zM62 60h1v1h-1zM92 78h1v1h-1zM0 88h4v1h-4zM7 89h1v1h-1zM8 90h1v1h-1zM9 91h1v1h-1zM10 92h1v1h-1zM11 93h1v1h-1z"/>
<path fill="#48c16e" d="M89 6h1v1h-1zM92 8h1v1h-1zM5 22h2v1h-2zM12 27h1v1h-1zM18 31h1v1h-1zM31 37h1v1h-1zM47 43h1v1h-1zM52 56h1v1h-1zM68 62h1v1h-1zM81 68h1v1h-1zM87 72h1v1h-1zM93 77h2v1h-2zM7 91h1v1h-1zM10 93h1v1h-1z"/>
<path fill="#50c46a" d="M90 6h1v1h-1zM93 7h7v1h-7zM16 30h1v1h-1zM44 42h1v1h-1zM55 57h1v1h-1zM83 69h1v1h-1zM0 92h7v1h-7zM9 93h1v1h-1z"/>
<path fill="#24868e" d="M83 7h1v1h-1zM0 10h8v1h-8zM19 11h1v1h-1zM21 12h1v1h-1zM14 20h1v1h-1zM73 22h1v1h-1zM71 23h1v1h-1zM17 24h1v1h-1zM70 24h1v1h-1zM19 25h1v1h-1zM71 25h2v1h-2zM21 26h1v1h-1zM73 26h3v1h-3zM24 27h1v1h-1zM79 27h21v1h-21zM27 28h1v1h-1zM31 29h1v1h-1zM35 30h1v1h-1zM40 31h1v1h-1zM45 32h2v1h-2zM51 33h2v1h-2zM56 34h3v1h-3zM60 35h3v1h-3zM64 36h2v1h-2zM67 37h2v1h-2zM70 38h1v1h-1zM72 39h2v1h-2zM74 40h2v1h-2zM76 41h2v1h-2zM78 42h2v1h-2zM80 43h1v1h-1zM82 44h1v1h-1zM84 45h1v1h-1zM86 46h1v1h-1zM4 48h1v1h-1zM89 48h1v1h-1zM6 49h1v1h-1zM91 49h1v1h-1zM8 50h1v1h-1zM93 50h1v1h-1zM10 51h1v1h-1zM95 51h1v1h-1zM13 53h1v1h-1zM15 54h1v1h-1zM17 55h1v1h-1zM19 56h1v1h-1zM20 57h2v1h-2zM22 58h2v1h-2zM24 59h2v1h-2zM26 60h2v1h-2zM29 61h1v1h-1zM31 62h2v1h-2zM34 63h2v1h-2zM37 64h3v1h-3zM41 65h3v1h-3zM47 66h2v1h-2zM53 67h2v1h-2zM59 68h1v1h-1zM64 69h1v1h-1zM68 70h1v1h-1zM72 71h1v1h-1zM0 72h21v1h-21zM75 72h1v1h-1zM24 73h3v1h-3zM78 73h1v1h-1zM27 74h2v1h-2zM80 74h1v1h-1zM29 75h1v1h-1zM82 75h1v1h-1zM28 76h1v1h-1zM26 77h1v1h-1zM85 79h1v1h-1zM78 87h1v1h-1zM80 88h1v1h-1zM92 89h8v1h-8zM16 92h1v1h-1z"/>
<path fill="#4ec36b" d="M92 7h1v1h-1zM7 23h1v1h-1zM13 28h1v1h-1zM36 39h1v1h-1zM63 60h1v1h-1zM86 71h1v1h-1zM92 76h1v1h-1zM7 92h1v1h-1z"/>
<path fill="#2db27d" d="M89 8h1v1h-1zM93 13h1v1h-1zM6 19h1v1h-1zM16 29h1v1h-1zM30 36h1v1h-1zM38 39h1v1h-1zM46 42h1v1h-1zM52 44h1v1h-1zM47 55h1v1h-1zM53 57h1v1h-1zM61 60h1v1h-1zM69 63h1v1h-1zM83 70h1v1h-1zM93 80h1v1h-1zM6 86h1v1h-1zM10 91h1v1h-1z"/>
<path fill="#4ac16d" d="M93 8h4v1h-4zM0 22h5v1h-5zM4 40h1v1h-1zM95 59h1v1h-1zM95 77h5v1h-5zM3 91h4v1h-4z"/>
<path fill="#1fa287" d="M88 9h1v1h-1zM7 16h2v1h-2zM88 16h1v1h-1zM90 17h1v1h-1zM11 22h1v1h-1zM12 24h1v1h-1zM15 27h1v1h-1zM42 39h1v1h-1zM45 40h1v1h-1zM3 41h1v1h-1zM48 41h1v1h-1zM51 42h1v1h-1zM8 43h1v1h-1zM16 46h1v1h-1zM66 47h1v1h-1zM69 48h1v1h-1zM30 51h1v1h-1zM33 52h1v1h-1zM83 53h1v1h-1zM91 56h1v1h-1zM48 57h1v1h-1zM51 58h1v1h-1zM96 58h1v1h-1zM54 59h1v1h-1zM57 60h1v1h-1zM84 72h1v1h-1zM87 75h1v1h-1zM88 77h1v1h-1zM9 82h1v1h-1zM11 83h1v1h-1zM91 83h2v1h-2zM11 90h1v1h-1z"/>
<path fill="#26ad81" d="M89 9h1v1h-1zM91 14h1v1h-1zM98 15h2v1h-2zM7 18h1v1h-1zM10 22h1v1h-1zM11 24h1v1h-1zM26 34h1v1h-1zM39 39h1v1h-1zM2 40h1v1h-1zM50 43h1v1h-1zM49 56h1v1h-1zM97 59h1v1h-1zM60 60h1v1h-1zM73 65h1v1h-1zM88 75h1v1h-1zM89 77h1v1h-1zM92 81h1v1h-1zM0 84h2v1h-2zM8 85h1v1h-1zM10 90h1v1h-1z"/>
<path fill="#31b57b" d="M90 9h1v1h-1zM9 22h1v1h-1zM11 25h1v1h-1zM12 26h1v1h-1zM43 41h1v1h-1zM26 48h1v1h-1zM29 49h1v1h-1zM70 50h1v1h-1zM73 51h1v1h-1zM56 58h1v1h-1zM87 73h1v1h-1zM88 74h1v1h-1zM90 77h1v1h-1zM9 90h1v1h-1z"/>
<path fill="#39568c" d="M42 10h1v1h-1zM61 10h1v1h-1zM69 11h2v1h-2zM30 12h1v1h-1zM27 20h1v1h-1zM34 21h1v1h-1zM65 78h1v1h-1zM72 79h1v1h-1zM69 87h1v1h-1zM29 88h2v1h-2zM38 89h1v1h-1zM57 89h1v1h-1z"/>
<path fill="#3a548c" d="M43 10h1v1h-1zM59 10h1v1h-1zM35 11h1v1h-1zM66 11h1v1h-1zM22 16h1v1h-1zM77 16h1v1h-1zM29 20h1v1h-1zM71 20h1v1h-1zM61 22h1v1h-1zM38 77h1v1h-1zM28 79h1v1h-1zM70 79h1v1h-1zM22 83h1v1h-1zM77 83h1v1h-1zM33 88h1v1h-1zM64 88h1v1h-1zM40 89h1v1h-1zM56 89h1v1h-1z"/>
<path fill="#3b528b" d="M44 10h1v1h-1zM58 10h1v1h-1zM64 11h1v1h-1zM70 12h2v1h-2zM75 14h1v1h-1zM23 15h1v1h-1zM76 15h1v1h-1zM31 20h1v1h-1zM37 21h1v1h-1zM62 78h1v1h-1zM68 79h1v1h-1zM23 84h1v1h-1zM76 84h1v1h-1zM24 85h1v1h-1zM28 87h2v1h-2zM35 88h1v1h-1zM41 89h1v1h-1zM55 89h1v1h-1z"/>
<path fill="#3b518b" d="M45 10h1v1h-1zM57 10h1v1h-1zM63 11h1v1h-1zM69 12h1v1h-1zM73 13h1v1h-1zM23 17h1v1h-1zM32 20h1v1h-1zM60 22h1v1h-1zM39 77h1v1h-1zM67 79h1v1h-1zM76 82h1v1h-1zM26 86h1v1h-1zM30 87h1v1h-1zM36 88h1v1h-1zM42 89h1v1h-1zM54 89h1v1h-1z"/>
<path fill="#3c508b" d="M46 10h1v1h-1zM36 11h1v1h-1zM62 11h1v1h-1zM31 12h1v1h-1zM68 12h1v1h-1zM25 14h1v1h-1zM74 14h1v1h-1zM76 16h1v1h-1zM76 17h1v1h-1zM25 18h1v1h-1zM75 18h1v1h-1zM27 19h1v1h-1zM38 21h1v1h-1zM42 22h1v1h-1zM57 77h1v1h-1zM61 78h1v1h-1zM72 80h1v1h-1zM24 81h1v1h-1zM74 81h1v1h-1zM23 82h1v1h-1zM23 83h1v1h-1zM25 85h1v1h-1zM74 85h1v1h-1zM31 87h1v1h-1zM68 87h1v1h-1zM37 88h1v1h-1zM63 88h1v1h-1zM53 89h1v1h-1z"/>
<path fill="#3c4f8a" d="M47 10h1v1h-1zM56 10h1v1h-1zM67 12h1v1h-1zM72 13h1v1h-1zM75 15h1v1h-1zM23 16h1v1h-1zM73 19h1v1h-1zM33 20h1v1h-1zM66 79h1v1h-1zM26 80h1v1h-1zM76 83h1v1h-1zM24 84h1v1h-1zM27 86h1v1h-1zM32 87h1v1h-1zM43 89h1v1h-1zM52 89h1v1h-1z"/>
<path fill="#3d4e8a" d="M48 10h2v1h-2zM54 10h2v1h-2zM61 11h1v1h-1zM66 12h1v1h-1zM71 13h1v1h-1zM24 17h1v1h-1zM28 19h1v1h-1zM34 20h1v1h-1zM66 21h1v1h-1zM59 22h1v1h-1zM40 77h1v1h-1zM33 78h1v1h-1zM65 79h1v1h-1zM71 80h1v1h-1zM75 82h1v1h-1zM28 86h1v1h-1zM33 87h1v1h-1zM38 88h1v1h-1zM44 89h2v1h-2zM50 89h2v1h-2z"/>
<path fill="#3d4d8a" d="M50 10h4v1h-4zM65 12h1v1h-1zM73 14h1v1h-1zM24 15h1v1h-1zM74 15h1v1h-1zM75 16h1v1h-1zM75 17h1v1h-1zM26 18h1v1h-1zM29 19h1v1h-1zM35 20h1v1h-1zM70 20h1v1h-1zM39 21h1v1h-1zM60 78h1v1h-1zM29 79h1v1h-1zM64 79h1v1h-1zM70 80h1v1h-1zM73 81h1v1h-1zM24 82h1v1h-1zM24 83h1v1h-1zM25 84h1v1h-1zM75 84h1v1h-1zM26 85h1v1h-1zM34 87h1v1h-1zM46 89h4v1h-4z"/>
<path fill="#39558c" d="M60 10h1v1h-1zM67 11h2v1h-2zM73 12h1v1h-1zM75 13h1v1h-1zM76 14h1v1h-1zM77 15h1v1h-1zM22 17h1v1h-1zM77 17h1v1h-1zM23 18h1v1h-1zM76 18h1v1h-1zM25 19h1v1h-1zM74 19h1v1h-1zM28 20h1v1h-1zM35 21h1v1h-1zM40 22h1v1h-1zM59 77h1v1h-1zM64 78h1v1h-1zM71 79h1v1h-1zM25 80h1v1h-1zM74 80h1v1h-1zM23 81h1v1h-1zM76 81h1v1h-1zM22 82h1v1h-1zM77 82h1v1h-1zM22 84h1v1h-1zM23 85h1v1h-1zM24 86h1v1h-1zM26 87h1v1h-1zM31 88h2v1h-2zM39 89h1v1h-1z"/>
<path fill="#38588c" d="M62 10h1v1h-1zM71 11h2v1h-2zM74 12h1v1h-1zM24 14h1v1h-1zM77 14h1v1h-1zM78 16h1v1h-1zM24 19h1v1h-1zM75 80h1v1h-1zM21 83h1v1h-1zM22 85h1v1h-1zM75 85h1v1h-1zM25 87h1v1h-1zM27 88h2v1h-2zM37 89h1v1h-1z"/>
<path fill="#3fbc73" d="M94 10h6v1h-6zM3 21h3v1h-3zM34 38h1v1h-1zM65 61h1v1h-1zM94 78h3v1h-3zM0 89h6v1h-6z"/>
<path fill="#228b8d" d="M1 11h9v1h-9zM18 12h1v1h-1zM19 13h1v1h-1zM18 14h1v1h-1zM82 18h1v1h-1zM76 23h1v1h-1zM78 24h3v1h-3zM87 25h13v1h-13zM19 26h1v1h-1zM24 28h1v1h-1zM27 29h1v1h-1zM34 31h1v1h-1zM38 32h1v1h-1zM43 33h1v1h-1zM47 34h1v1h-1zM51 35h2v1h-2zM55 36h2v1h-2zM59 37h1v1h-1zM62 38h1v1h-1zM65 39h1v1h-1zM68 40h1v1h-1zM70 41h1v1h-1zM73 42h1v1h-1zM75 43h1v1h-1zM77 44h1v1h-1zM79 45h1v1h-1zM81 46h1v1h-1zM18 53h1v1h-1zM20 54h1v1h-1zM22 55h1v1h-1zM24 56h1v1h-1zM26 57h1v1h-1zM29 58h1v1h-1zM31 59h1v1h-1zM34 60h1v1h-1zM37 61h1v1h-1zM40 62h1v1h-1zM43 63h2v1h-2zM47 64h2v1h-2zM52 65h1v1h-1zM56 66h1v1h-1zM61 67h1v1h-1zM65 68h1v1h-1zM72 70h1v1h-1zM75 71h1v1h-1zM80 73h1v1h-1zM0 74h13v1h-13zM19 75h3v1h-3zM23 76h1v1h-1zM17 81h1v1h-1zM81 85h1v1h-1zM80 86h1v1h-1zM81 87h1v1h-1zM90 88h9v1h-9z"/>
<path fill="#3e4c8a" d="M37 11h1v1h-1zM60 11h1v1h-1zM64 12h1v1h-1zM28 13h1v1h-1zM69 13h2v1h-2zM24 16h1v1h-1zM25 17h1v1h-1zM43 22h1v1h-1zM58 22h1v1h-1zM41 77h1v1h-1zM56 77h1v1h-1zM74 82h1v1h-1zM75 83h1v1h-1zM29 86h2v1h-2zM71 86h1v1h-1zM35 87h1v1h-1zM39 88h1v1h-1zM62 88h1v1h-1z"/>
<path fill="#3f4889" d="M38 11h1v1h-1zM62 12h1v1h-1zM71 14h1v1h-1zM26 17h1v1h-1zM74 17h1v1h-1zM28 18h1v1h-1zM32 19h1v1h-1zM37 20h1v1h-1zM69 20h1v1h-1zM44 22h1v1h-1zM55 77h1v1h-1zM30 79h1v1h-1zM62 79h1v1h-1zM67 80h1v1h-1zM71 81h1v1h-1zM25 82h1v1h-1zM73 82h1v1h-1zM28 85h1v1h-1zM37 87h1v1h-1zM61 88h1v1h-1z"/>
<path fill="#404588" d="M39 11h1v1h-1zM29 13h1v1h-1zM64 13h1v1h-1zM69 14h1v1h-1zM71 15h1v1h-1zM72 16h1v1h-1zM73 17h1v1h-1zM34 19h1v1h-1zM55 22h1v1h-1zM44 77h1v1h-1zM65 80h1v1h-1zM26 82h1v1h-1zM27 83h1v1h-1zM28 84h1v1h-1zM30 85h1v1h-1zM35 86h1v1h-1zM70 86h1v1h-1zM60 88h1v1h-1z"/>
<path fill="#424186" d="M40 11h1v1h-1zM66 14h1v1h-1zM27 16h1v1h-1zM71 16h1v1h-1zM31 18h1v1h-1zM36 19h1v1h-1zM63 21h1v1h-1zM52 22h1v1h-1zM47 77h1v1h-1zM36 78h1v1h-1zM63 80h1v1h-1zM68 81h1v1h-1zM28 83h1v1h-1zM72 83h1v1h-1zM33 85h1v1h-1zM59 88h1v1h-1z"/>
<path fill="#423f85" d="M41 11h1v1h-1zM56 11h1v1h-1zM34 12h1v1h-1zM28 14h1v1h-1zM65 14h1v1h-1zM27 15h1v1h-1zM70 16h1v1h-1zM71 17h1v1h-1zM71 18h1v1h-1zM37 19h1v1h-1zM67 20h1v1h-1zM62 21h1v1h-1zM48 22h2v1h-2zM50 77h2v1h-2zM37 78h1v1h-1zM32 79h1v1h-1zM62 80h1v1h-1zM28 81h1v1h-1zM28 82h1v1h-1zM29 83h1v1h-1zM72 84h1v1h-1zM34 85h1v1h-1zM71 85h1v1h-1zM65 87h1v1h-1zM43 88h1v1h-1zM58 88h1v1h-1z"/>
<path fill="#433d84" d="M42 11h1v1h-1zM58 12h1v1h-1zM67 15h1v1h-1zM69 16h1v1h-1zM70 17h1v1h-1zM34 18h1v1h-1zM38 19h1v1h-1zM69 19h1v1h-1zM30 80h1v1h-1zM61 80h1v1h-1zM65 81h1v1h-1zM29 82h1v1h-1zM30 83h1v1h-1zM32 84h1v1h-1zM41 87h1v1h-1zM57 88h1v1h-1z"/>
<path fill="#443a83" d="M43 11h1v1h-1zM29 14h1v1h-1zM66 15h1v1h-1zM31 17h1v1h-1zM35 18h1v1h-1zM39 19h1v1h-1zM60 80h1v1h-1zM64 81h1v1h-1zM68 82h1v1h-1zM33 84h1v1h-1zM70 85h1v1h-1zM56 88h1v1h-1z"/>
<path fill="#443983" d="M44 11h1v1h-1zM62 14h1v1h-1zM65 15h1v1h-1zM68 16h1v1h-1zM69 17h1v1h-1zM69 18h1v1h-1zM68 19h1v1h-1zM60 21h1v1h-1zM39 78h1v1h-1zM31 80h1v1h-1zM30 81h1v1h-1zM30 82h1v1h-1zM31 83h1v1h-1zM34 84h1v1h-1zM37 85h1v1h-1zM55 88h1v1h-1z"/>
<path fill="#453781" d="M45 11h1v1h-1zM32 13h1v1h-1zM30 14h1v1h-1zM61 14h1v1h-1zM64 15h1v1h-1zM67 16h1v1h-1zM33 17h1v1h-1zM68 17h1v1h-1zM37 18h1v1h-1zM40 19h1v1h-1zM59 21h1v1h-1zM40 78h1v1h-1zM59 80h1v1h-1zM62 81h1v1h-1zM31 82h1v1h-1zM66 82h1v1h-1zM32 83h1v1h-1zM35 84h1v1h-1zM38 85h1v1h-1zM69 85h1v1h-1zM67 86h1v1h-1zM54 88h1v1h-1z"/>
<path fill="#453581" d="M46 11h1v1h-1zM30 15h1v1h-1zM63 15h1v1h-1zM31 16h1v1h-1zM66 16h1v1h-1zM68 18h1v1h-1zM67 19h1v1h-1zM64 20h1v1h-1zM35 79h1v1h-1zM32 80h1v1h-1zM31 81h1v1h-1zM33 83h1v1h-1zM68 83h1v1h-1zM36 84h1v1h-1zM69 84h1v1h-1zM53 88h1v1h-1z"/>
<path fill="#463480" d="M47 11h2v1h-2zM53 11h1v1h-1zM37 12h1v1h-1zM58 13h1v1h-1zM60 14h1v1h-1zM34 17h1v1h-1zM67 17h1v1h-1zM38 18h1v1h-1zM58 21h1v1h-1zM41 78h1v1h-1zM61 81h1v1h-1zM32 82h1v1h-1zM65 82h1v1h-1zM39 85h1v1h-1zM41 86h1v1h-1zM62 87h1v1h-1zM46 88h1v1h-1zM51 88h2v1h-2z"/>
<path fill="#46337f" d="M49 11h4v1h-4zM56 12h1v1h-1zM33 13h1v1h-1zM31 14h1v1h-1zM31 15h1v1h-1zM62 15h1v1h-1zM32 16h1v1h-1zM65 16h1v1h-1zM67 18h1v1h-1zM41 19h1v1h-1zM66 19h1v1h-1zM43 20h1v1h-1zM56 79h1v1h-1zM33 80h1v1h-1zM58 80h1v1h-1zM32 81h1v1h-1zM34 83h1v1h-1zM67 83h1v1h-1zM37 84h1v1h-1zM68 84h1v1h-1zM68 85h1v1h-1zM66 86h1v1h-1zM43 87h1v1h-1zM47 88h4v1h-4z"/>
<path fill="#453882" d="M54 11h1v1h-1zM36 12h1v1h-1zM57 12h1v1h-1zM59 13h1v1h-1zM29 15h1v1h-1zM30 16h1v1h-1zM32 17h1v1h-1zM36 18h1v1h-1zM42 20h1v1h-1zM65 20h1v1h-1zM44 21h1v1h-1zM55 78h1v1h-1zM34 79h1v1h-1zM57 79h1v1h-1zM63 81h1v1h-1zM67 82h1v1h-1zM69 83h1v1h-1zM70 84h1v1h-1zM40 86h1v1h-1zM42 87h1v1h-1zM63 87h1v1h-1zM45 88h1v1h-1z"/>
<path fill="#443b84" d="M55 11h1v1h-1zM35 12h1v1h-1zM31 13h1v1h-1zM60 13h1v1h-1zM63 14h1v1h-1zM28 15h1v1h-1zM29 16h1v1h-1zM70 18h1v1h-1zM41 20h1v1h-1zM66 20h1v1h-1zM61 21h1v1h-1zM38 78h1v1h-1zM33 79h1v1h-1zM58 79h1v1h-1zM29 81h1v1h-1zM70 83h1v1h-1zM71 84h1v1h-1zM36 85h1v1h-1zM39 86h1v1h-1zM68 86h1v1h-1zM64 87h1v1h-1zM44 88h1v1h-1z"/>
<path fill="#414487" d="M57 11h1v1h-1zM33 12h1v1h-1zM27 14h1v1h-1zM68 14h1v1h-1zM26 16h1v1h-1zM30 18h1v1h-1zM35 19h1v1h-1zM71 19h1v1h-1zM45 22h1v1h-1zM54 22h1v1h-1zM45 77h1v1h-1zM54 77h1v1h-1zM28 80h1v1h-1zM64 80h1v1h-1zM69 81h1v1h-1zM73 83h1v1h-1zM31 85h1v1h-1zM72 85h1v1h-1zM66 87h1v1h-1zM42 88h1v1h-1z"/>
<path fill="#3f4788" d="M58 11h1v1h-1zM66 13h1v1h-1zM70 14h1v1h-1zM25 15h1v1h-1zM72 15h1v1h-1zM25 16h1v1h-1zM73 16h1v1h-1zM33 19h1v1h-1zM56 22h1v1h-1zM43 77h1v1h-1zM66 80h1v1h-1zM26 83h1v1h-1zM74 83h1v1h-1zM27 84h1v1h-1zM74 84h1v1h-1zM29 85h1v1h-1zM33 86h1v1h-1zM41 88h1v1h-1z"/>
<path fill="#3e4989" d="M59 11h1v1h-1zM32 12h1v1h-1zM63 12h1v1h-1zM67 13h1v1h-1zM26 14h1v1h-1zM73 15h1v1h-1zM31 19h1v1h-1zM72 19h1v1h-1zM65 21h1v1h-1zM57 22h1v1h-1zM42 77h1v1h-1zM34 78h1v1h-1zM27 80h1v1h-1zM68 80h1v1h-1zM26 84h1v1h-1zM73 85h1v1h-1zM32 86h1v1h-1zM36 87h1v1h-1zM67 87h1v1h-1zM40 88h1v1h-1z"/>
<path fill="#3a538b" d="M65 11h1v1h-1zM72 12h1v1h-1zM27 13h1v1h-1zM74 13h1v1h-1zM24 18h1v1h-1zM26 19h1v1h-1zM30 20h1v1h-1zM36 21h1v1h-1zM67 21h1v1h-1zM41 22h1v1h-1zM58 77h1v1h-1zM32 78h1v1h-1zM63 78h1v1h-1zM69 79h1v1h-1zM73 80h1v1h-1zM75 81h1v1h-1zM25 86h1v1h-1zM72 86h1v1h-1zM27 87h1v1h-1zM34 88h1v1h-1z"/>
<path fill="#1e9c89" d="M88 11h1v1h-1zM11 15h1v1h-1zM13 16h1v1h-1zM86 17h1v1h-1zM86 18h1v1h-1zM90 19h4v1h-4zM16 27h1v1h-1zM21 30h1v1h-1zM31 34h1v1h-1zM34 35h1v1h-1zM37 36h1v1h-1zM40 37h1v1h-1zM43 38h1v1h-1zM46 39h1v1h-1zM49 40h1v1h-1zM1 41h1v1h-1zM8 44h1v1h-1zM64 45h1v1h-1zM13 46h1v1h-1zM67 46h1v1h-1zM70 47h1v1h-1zM21 49h1v1h-1zM75 49h1v1h-1zM24 50h1v1h-1zM78 50h1v1h-1zM29 52h1v1h-1zM32 53h1v1h-1zM86 53h1v1h-1zM35 54h1v1h-1zM91 55h1v1h-1zM98 58h1v1h-1zM50 59h1v1h-1zM53 60h1v1h-1zM56 61h1v1h-1zM59 62h1v1h-1zM62 63h1v1h-1zM65 64h1v1h-1zM68 65h1v1h-1zM78 69h1v1h-1zM83 72h1v1h-1zM6 80h4v1h-4zM13 81h1v1h-1zM13 82h1v1h-1zM86 83h1v1h-1zM88 84h1v1h-1zM11 88h1v1h-1z"/>
<path fill="#21a585" d="M89 11h1v1h-1zM89 14h1v1h-1zM89 15h1v1h-1zM10 17h1v1h-1zM99 17h1v1h-1zM16 28h1v1h-1zM21 31h1v1h-1zM23 32h1v1h-1zM25 33h1v1h-1zM30 35h1v1h-1zM38 38h1v1h-1zM41 39h1v1h-1zM44 40h1v1h-1zM6 42h1v1h-1zM53 43h1v1h-1zM56 44h1v1h-1zM14 45h1v1h-1zM59 45h1v1h-1zM17 46h1v1h-1zM62 46h1v1h-1zM65 47h1v1h-1zM68 48h1v1h-1zM31 51h1v1h-1zM34 52h1v1h-1zM37 53h1v1h-1zM82 53h1v1h-1zM40 54h1v1h-1zM85 54h1v1h-1zM43 55h1v1h-1zM46 56h1v1h-1zM93 57h1v1h-1zM55 59h1v1h-1zM58 60h1v1h-1zM61 61h1v1h-1zM69 64h1v1h-1zM74 66h1v1h-1zM76 67h1v1h-1zM78 68h1v1h-1zM83 71h1v1h-1zM0 82h1v1h-1zM89 82h1v1h-1zM10 84h1v1h-1zM10 85h1v1h-1zM10 88h1v1h-1z"/>
<path fill="#27ad81" d="M90 11h1v1h-1zM4 18h3v1h-3zM9 19h1v1h-1zM15 28h1v1h-1zM36 38h1v1h-1zM47 42h1v1h-1zM13 44h1v1h-1zM53 44h1v1h-1zM46 55h1v1h-1zM86 55h1v1h-1zM52 57h1v1h-1zM63 61h1v1h-1zM84 71h1v1h-1zM90 80h1v1h-1zM93 81h3v1h-3zM9 88h1v1h-1z"/>
<path fill="#37b878" d="M93 11h1v1h-1zM0 20h5v1h-5zM95 79h5v1h-5zM6 88h1v1h-1z"/>
<path fill="#38b977" d="M94 11h2v1h-2zM9 23h1v1h-1zM14 28h1v1h-1zM17 30h1v1h-1zM6 41h1v1h-1zM93 58h1v1h-1zM82 69h1v1h-1zM85 71h1v1h-1zM90 76h1v1h-1zM4 88h2v1h-2z"/>
<path fill="#21908d" d="M3 12h6v1h-6zM16 15h1v1h-1zM80 20h1v1h-1zM13 21h1v1h-1zM79 21h1v1h-1zM81 22h2v1h-2zM87 23h5v1h-5zM24 29h1v1h-1zM27 30h1v1h-1zM30 31h1v1h-1zM34 32h1v1h-1zM37 33h1v1h-1zM41 34h1v1h-1zM45 35h1v1h-1zM48 36h1v1h-1zM52 37h1v1h-1zM55 38h2v1h-2zM58 39h2v1h-2zM62 40h1v1h-1zM64 41h1v1h-1zM67 42h1v1h-1zM0 43h1v1h-1zM70 43h1v1h-1zM2 44h1v1h-1zM72 44h1v1h-1zM4 45h1v1h-1zM75 45h1v1h-1zM77 46h1v1h-1zM82 48h1v1h-1zM13 49h1v1h-1zM84 49h1v1h-1zM15 50h1v1h-1zM86 50h1v1h-1zM17 51h1v1h-1zM22 53h1v1h-1zM24 54h1v1h-1zM95 54h1v1h-1zM27 55h1v1h-1zM97 55h1v1h-1zM29 56h1v1h-1zM99 56h1v1h-1zM32 57h1v1h-1zM35 58h1v1h-1zM37 59h1v1h-1zM40 60h2v1h-2zM43 61h2v1h-2zM47 62h1v1h-1zM51 63h1v1h-1zM54 64h1v1h-1zM58 65h1v1h-1zM62 66h1v1h-1zM65 67h1v1h-1zM69 68h1v1h-1zM72 69h1v1h-1zM75 70h1v1h-1zM8 76h5v1h-5zM17 77h2v1h-2zM20 78h1v1h-1zM86 78h1v1h-1zM19 79h1v1h-1zM83 84h1v1h-1zM91 87h6v1h-6z"/>
<path fill="#46327e" d="M38 12h1v1h-1zM35 17h1v1h-1zM63 20h1v1h-1zM45 21h1v1h-1zM57 21h1v1h-1zM42 78h1v1h-1zM54 78h1v1h-1zM36 79h1v1h-1zM64 82h1v1h-1zM61 87h1v1h-1z"/>
<path fill="#472e7c" d="M39 12h1v1h-1zM55 12h1v1h-1zM33 14h1v1h-1zM58 14h1v1h-1zM60 15h1v1h-1zM37 17h1v1h-1zM65 17h1v1h-1zM40 18h1v1h-1zM65 18h1v1h-1zM64 19h1v1h-1zM44 20h1v1h-1zM55 21h1v1h-1zM44 78h1v1h-1zM55 79h1v1h-1zM35 80h1v1h-1zM34 81h1v1h-1zM59 81h1v1h-1zM34 82h1v1h-1zM62 82h1v1h-1zM39 84h1v1h-1zM41 85h1v1h-1zM66 85h1v1h-1zM44 87h1v1h-1zM60 87h1v1h-1z"/>
<path fill="#472c7a" d="M40 12h1v1h-1zM56 13h1v1h-1zM38 17h1v1h-1zM64 17h1v1h-1zM41 18h1v1h-1zM64 18h1v1h-1zM43 19h1v1h-1zM63 19h1v1h-1zM60 20h1v1h-1zM46 21h1v1h-1zM53 21h1v1h-1zM46 78h1v1h-1zM53 78h1v1h-1zM39 79h1v1h-1zM36 80h1v1h-1zM56 80h1v1h-1zM35 81h1v1h-1zM58 81h1v1h-1zM35 82h1v1h-1zM61 82h1v1h-1zM43 86h1v1h-1zM59 87h1v1h-1z"/>
<path fill="#472a7a" d="M41 12h1v1h-1zM36 13h1v1h-1zM34 14h1v1h-1zM57 14h1v1h-1zM34 15h1v1h-1zM59 15h1v1h-1zM35 16h1v1h-1zM61 16h1v1h-1zM52 21h1v1h-1zM47 78h1v1h-1zM38 83h1v1h-1zM64 83h1v1h-1zM40 84h1v1h-1zM65 84h1v1h-1zM42 85h1v1h-1zM65 85h1v1h-1zM63 86h1v1h-1zM58 87h1v1h-1z"/>
<path fill="#482878" d="M42 12h1v1h-1zM54 12h1v1h-1zM37 13h1v1h-1zM35 14h1v1h-1zM35 15h1v1h-1zM58 15h1v1h-1zM36 16h1v1h-1zM60 16h1v1h-1zM42 18h1v1h-1zM63 18h1v1h-1zM45 20h1v1h-1zM47 21h4v1h-4zM49 78h4v1h-4zM54 79h1v1h-1zM36 81h1v1h-1zM57 81h1v1h-1zM39 83h1v1h-1zM63 83h1v1h-1zM41 84h1v1h-1zM64 84h1v1h-1zM64 85h1v1h-1zM62 86h1v1h-1zM45 87h1v1h-1zM57 87h1v1h-1z"/>
<path fill="#482677" d="M43 12h1v1h-1zM55 13h1v1h-1zM40 17h1v1h-1zM62 17h1v1h-1zM44 19h1v1h-1zM61 19h1v1h-1zM58 20h1v1h-1zM41 79h1v1h-1zM38 80h1v1h-1zM55 80h1v1h-1zM37 82h1v1h-1zM59 82h1v1h-1zM44 86h1v1h-1zM56 87h1v1h-1z"/>
<path fill="#482475" d="M44 12h1v1h-1zM57 15h1v1h-1zM61 17h1v1h-1zM43 18h1v1h-1zM60 19h1v1h-1zM39 80h1v1h-1zM56 81h1v1h-1zM38 82h1v1h-1zM42 84h1v1h-1zM55 87h1v1h-1z"/>
<path fill="#482374" d="M45 12h1v1h-1zM39 13h1v1h-1zM37 14h1v1h-1zM37 15h1v1h-1zM38 16h1v1h-1zM41 17h1v1h-1zM61 18h1v1h-1zM45 19h1v1h-1zM56 20h1v1h-1zM43 79h1v1h-1zM54 80h1v1h-1zM38 81h1v1h-1zM58 82h1v1h-1zM61 83h1v1h-1zM62 84h1v1h-1zM62 85h1v1h-1zM60 86h1v1h-1zM54 87h1v1h-1z"/>
<path fill="#482173" d="M46 12h1v1h-1zM55 14h1v1h-1zM56 15h1v1h-1zM58 16h1v1h-1zM60 17h1v1h-1zM59 19h1v1h-1zM46 20h1v1h-1zM55 20h1v1h-1zM44 79h1v1h-1zM53 79h1v1h-1zM40 80h1v1h-1zM39 82h1v1h-1zM41 83h1v1h-1zM43 84h1v1h-1zM44 85h1v1h-1zM53 87h1v1h-1z"/>
<path fill="#482071" d="M47 12h1v1h-1zM53 12h1v1h-1zM40 13h1v1h-1zM54 13h1v1h-1zM38 14h1v1h-1zM38 15h1v1h-1zM39 16h1v1h-1zM42 17h1v1h-1zM44 18h1v1h-1zM60 18h1v1h-1zM39 81h1v1h-1zM55 81h1v1h-1zM57 82h1v1h-1zM60 83h1v1h-1zM61 84h1v1h-1zM61 85h1v1h-1zM45 86h1v1h-1zM59 86h1v1h-1zM46 87h1v1h-1zM52 87h1v1h-1z"/>
<path fill="#481f70" d="M48 12h1v1h-1zM41 13h1v1h-1zM57 16h1v1h-1zM59 17h1v1h-1zM59 18h1v1h-1zM58 19h1v1h-1zM54 20h1v1h-1zM45 79h1v1h-1zM41 80h1v1h-1zM40 81h1v1h-1zM40 82h1v1h-1zM42 83h1v1h-1zM58 86h1v1h-1zM51 87h1v1h-1z"/>
<path fill="#481d6f" d="M49 12h4v1h-4zM39 14h1v1h-1zM39 15h1v1h-1zM55 15h1v1h-1zM40 16h1v1h-1zM46 19h1v1h-1zM57 19h1v1h-1zM53 20h1v1h-1zM46 79h1v1h-1zM42 80h1v1h-1zM53 80h1v1h-1zM59 83h1v1h-1zM44 84h1v1h-1zM60 84h1v1h-1zM60 85h1v1h-1zM47 87h4v1h-4z"/>
<path fill="#424086" d="M59 12h1v1h-1zM30 13h1v1h-1zM62 13h1v1h-1zM69 15h1v1h-1zM29 17h1v1h-1zM32 18h1v1h-1zM70 19h1v1h-1zM40 20h1v1h-1zM46 22h2v1h-2zM50 22h2v1h-2zM48 77h2v1h-2zM52 77h2v1h-2zM59 79h1v1h-1zM29 80h1v1h-1zM67 81h1v1h-1zM70 82h1v1h-1zM30 84h1v1h-1zM37 86h1v1h-1zM69 86h1v1h-1zM40 87h1v1h-1z"/>
<path fill="#414287" d="M60 12h1v1h-1zM63 13h1v1h-1zM67 14h1v1h-1zM26 15h1v1h-1zM70 15h1v1h-1zM28 17h1v1h-1zM72 17h1v1h-1zM72 18h1v1h-1zM39 20h1v1h-1zM68 20h1v1h-1zM42 21h1v1h-1zM53 22h1v1h-1zM46 77h1v1h-1zM57 78h1v1h-1zM31 79h1v1h-1zM60 79h1v1h-1zM27 81h1v1h-1zM27 82h1v1h-1zM71 82h1v1h-1zM29 84h1v1h-1zM73 84h1v1h-1zM32 85h1v1h-1zM36 86h1v1h-1zM39 87h1v1h-1z"/>
<path fill="#404688" d="M61 12h1v1h-1zM65 13h1v1h-1zM27 17h1v1h-1zM29 18h1v1h-1zM73 18h1v1h-1zM38 20h1v1h-1zM41 21h1v1h-1zM64 21h1v1h-1zM35 78h1v1h-1zM58 78h1v1h-1zM61 79h1v1h-1zM26 81h1v1h-1zM70 81h1v1h-1zM72 82h1v1h-1zM34 86h1v1h-1zM38 87h1v1h-1z"/>
<path fill="#1e9b8a" d="M88 12h1v1h-1zM12 15h1v1h-1zM87 15h1v1h-1zM88 19h2v1h-2zM26 32h1v1h-1zM41 37h1v1h-1zM44 38h1v1h-1zM47 39h1v1h-1zM50 40h1v1h-1zM53 41h1v1h-1zM3 42h1v1h-1zM56 42h1v1h-1zM59 43h1v1h-1zM62 44h1v1h-1zM10 45h1v1h-1zM65 45h1v1h-1zM68 46h1v1h-1zM15 47h1v1h-1zM18 48h1v1h-1zM73 48h1v1h-1zM76 49h1v1h-1zM23 50h1v1h-1zM26 51h1v1h-1zM81 51h1v1h-1zM84 52h1v1h-1zM31 53h1v1h-1zM34 54h1v1h-1zM89 54h1v1h-1zM37 55h1v1h-1zM40 56h1v1h-1zM43 57h1v1h-1zM96 57h1v1h-1zM46 58h1v1h-1zM49 59h1v1h-1zM52 60h1v1h-1zM55 61h1v1h-1zM58 62h1v1h-1zM73 67h1v1h-1zM10 80h2v1h-2zM12 84h1v1h-1zM87 84h1v1h-1zM11 87h1v1h-1z"/>
<path fill="#20a386" d="M89 12h1v1h-1zM3 16h4v1h-4zM11 17h1v1h-1zM91 17h3v1h-3zM11 18h1v1h-1zM28 34h1v1h-1zM36 37h1v1h-1zM39 38h1v1h-1zM54 43h1v1h-1zM11 44h1v1h-1zM57 44h1v1h-1zM60 45h1v1h-1zM63 46h1v1h-1zM19 47h1v1h-1zM22 48h1v1h-1zM77 51h1v1h-1zM80 52h1v1h-1zM36 53h1v1h-1zM39 54h1v1h-1zM42 55h1v1h-1zM88 55h1v1h-1zM45 56h1v1h-1zM60 61h1v1h-1zM63 62h1v1h-1zM71 65h1v1h-1zM88 81h1v1h-1zM6 82h3v1h-3zM88 82h1v1h-1zM93 83h4v1h-4zM10 87h1v1h-1z"/>
<path fill="#32b67a" d="M93 12h2v1h-2zM7 20h1v1h-1zM13 27h1v1h-1zM19 31h1v1h-1zM25 34h1v1h-1zM14 44h1v1h-1zM20 46h1v1h-1zM23 47h1v1h-1zM76 52h1v1h-1zM79 53h1v1h-1zM85 55h1v1h-1zM74 65h1v1h-1zM80 68h1v1h-1zM86 72h1v1h-1zM92 79h1v1h-1zM5 87h2v1h-2z"/>
<path fill="#20938c" d="M9 13h3v1h-3zM87 13h1v1h-1zM86 15h1v1h-1zM84 21h2v1h-2zM92 22h8v1h-8zM14 24h1v1h-1zM15 25h1v1h-1zM18 27h1v1h-1zM20 28h1v1h-1zM22 29h1v1h-1zM25 30h1v1h-1zM34 33h1v1h-1zM37 34h1v1h-1zM41 35h1v1h-1zM44 36h1v1h-1zM47 37h1v1h-1zM51 38h1v1h-1zM54 39h1v1h-1zM57 40h1v1h-1zM60 41h1v1h-1zM63 42h1v1h-1zM2 43h1v1h-1zM66 43h1v1h-1zM4 44h1v1h-1zM71 45h1v1h-1zM74 46h1v1h-1zM11 47h1v1h-1zM76 47h1v1h-1zM13 48h1v1h-1zM79 48h1v1h-1zM81 49h1v1h-1zM18 50h1v1h-1zM20 51h1v1h-1zM86 51h1v1h-1zM23 52h1v1h-1zM88 52h1v1h-1zM25 53h1v1h-1zM28 54h1v1h-1zM95 55h1v1h-1zM33 56h1v1h-1zM97 56h1v1h-1zM36 57h1v1h-1zM39 58h1v1h-1zM42 59h1v1h-1zM45 60h1v1h-1zM48 61h1v1h-1zM52 62h1v1h-1zM55 63h1v1h-1zM58 64h1v1h-1zM62 65h1v1h-1zM65 66h1v1h-1zM74 69h1v1h-1zM77 70h1v1h-1zM79 71h1v1h-1zM81 72h1v1h-1zM84 74h1v1h-1zM85 75h1v1h-1zM0 77h8v1h-8zM14 78h2v1h-2zM13 84h1v1h-1zM12 86h1v1h-1zM88 86h3v1h-3z"/>
<path fill="#46307e" d="M34 13h1v1h-1zM57 13h1v1h-1zM32 14h1v1h-1zM59 14h1v1h-1zM61 15h1v1h-1zM64 16h1v1h-1zM66 17h1v1h-1zM39 18h1v1h-1zM66 18h1v1h-1zM65 19h1v1h-1zM56 21h1v1h-1zM43 78h1v1h-1zM34 80h1v1h-1zM33 81h1v1h-1zM60 81h1v1h-1zM33 82h1v1h-1zM35 83h1v1h-1zM38 84h1v1h-1zM40 85h1v1h-1zM67 85h1v1h-1zM42 86h1v1h-1zM65 86h1v1h-1z"/>
<path fill="#472d7b" d="M35 13h1v1h-1zM33 15h1v1h-1zM34 16h1v1h-1zM62 16h1v1h-1zM61 20h1v1h-1zM54 21h1v1h-1zM45 78h1v1h-1zM38 79h1v1h-1zM37 83h1v1h-1zM65 83h1v1h-1zM66 84h1v1h-1zM64 86h1v1h-1z"/>
<path fill="#482576" d="M38 13h1v1h-1zM36 14h1v1h-1zM56 14h1v1h-1zM36 15h1v1h-1zM37 16h1v1h-1zM59 16h1v1h-1zM62 18h1v1h-1zM57 20h1v1h-1zM42 79h1v1h-1zM37 81h1v1h-1zM40 83h1v1h-1zM62 83h1v1h-1zM63 84h1v1h-1zM43 85h1v1h-1zM63 85h1v1h-1zM61 86h1v1h-1z"/>
<path fill="#481c6e" d="M42 13h1v1h-1zM40 14h1v1h-1zM54 14h1v1h-1zM56 16h1v1h-1zM43 17h1v1h-1zM58 17h1v1h-1zM45 18h1v1h-1zM58 18h1v1h-1zM52 20h1v1h-1zM47 79h1v1h-1zM41 81h1v1h-1zM54 81h1v1h-1zM41 82h1v1h-1zM56 82h1v1h-1zM43 83h1v1h-1zM45 85h1v1h-1zM59 85h1v1h-1zM57 86h1v1h-1z"/>
<path fill="#481b6d" d="M43 13h1v1h-1zM40 15h1v1h-1zM41 16h1v1h-1zM56 19h1v1h-1zM47 20h1v1h-1zM51 20h1v1h-1zM48 79h1v1h-1zM52 79h1v1h-1zM43 80h1v1h-1zM58 83h1v1h-1zM59 84h1v1h-1zM56 86h1v1h-1z"/>
<path fill="#48186a" d="M44 13h1v1h-1zM41 15h1v1h-1zM54 15h1v1h-1zM42 16h1v1h-1zM55 16h1v1h-1zM46 18h1v1h-1zM47 19h1v1h-1zM55 19h1v1h-1zM49 20h1v1h-1zM50 79h1v1h-1zM44 80h1v1h-1zM52 80h1v1h-1zM53 81h1v1h-1zM44 83h1v1h-1zM57 83h1v1h-1zM45 84h1v1h-1zM58 84h1v1h-1zM55 86h1v1h-1z"/>
<path fill="#481769" d="M45 13h1v1h-1zM42 14h1v1h-1zM53 14h1v1h-1zM56 17h1v1h-1zM56 18h1v1h-1zM54 19h1v1h-1zM48 20h1v1h-1zM51 79h1v1h-1zM45 80h1v1h-1zM43 81h1v1h-1zM43 82h1v1h-1zM46 85h1v1h-1zM57 85h1v1h-1zM54 86h1v1h-1z"/>
<path fill="#481668" d="M46 13h1v1h-1zM43 14h1v1h-1zM42 15h1v1h-1zM43 16h1v1h-1zM45 17h1v1h-1zM54 82h1v1h-1zM56 83h1v1h-1zM57 84h1v1h-1zM56 85h1v1h-1zM53 86h1v1h-1z"/>
<path fill="#481467" d="M47 13h1v1h-1zM53 15h1v1h-1zM54 16h1v1h-1zM55 18h1v1h-1zM53 19h1v1h-1zM46 80h1v1h-1zM44 81h1v1h-1zM45 83h1v1h-1zM46 84h1v1h-1zM52 86h1v1h-1z"/>
<path fill="#471365" d="M48 13h1v1h-1zM52 13h1v1h-1zM44 14h1v1h-1zM43 15h1v1h-1zM44 16h1v1h-1zM55 17h1v1h-1zM47 18h1v1h-1zM52 19h1v1h-1zM47 80h1v1h-1zM52 81h1v1h-1zM44 82h1v1h-1zM55 83h1v1h-1zM56 84h1v1h-1zM55 85h1v1h-1zM47 86h1v1h-1zM51 86h1v1h-1z"/>
<path fill="#471164" d="M49 13h1v1h-1zM52 14h1v1h-1zM46 17h1v1h-1zM54 18h1v1h-1zM48 19h1v1h-1zM51 80h1v1h-1zM45 81h1v1h-1zM53 82h1v1h-1zM47 85h1v1h-1zM50 86h1v1h-1z"/>
<path fill="#471063" d="M50 13h1v1h-1zM45 14h1v1h-1zM44 15h1v1h-1zM52 15h1v1h-1zM53 16h1v1h-1zM54 17h1v1h-1zM51 19h1v1h-1zM48 80h1v1h-1zM45 82h1v1h-1zM46 83h1v1h-1zM47 84h1v1h-1zM55 84h1v1h-1zM54 85h1v1h-1zM49 86h1v1h-1z"/>
<path fill="#470e61" d="M51 13h1v1h-1zM46 14h1v1h-1zM45 16h1v1h-1zM48 18h1v1h-1zM53 18h1v1h-1zM50 19h1v1h-1zM49 80h1v1h-1zM46 81h1v1h-1zM51 81h1v1h-1zM54 83h1v1h-1zM53 85h1v1h-1zM48 86h1v1h-1z"/>
<path fill="#481a6c" d="M53 13h1v1h-1zM41 14h1v1h-1zM44 17h1v1h-1zM57 17h1v1h-1zM57 18h1v1h-1zM50 20h1v1h-1zM49 79h1v1h-1zM42 81h1v1h-1zM42 82h1v1h-1zM55 82h1v1h-1zM58 85h1v1h-1zM46 86h1v1h-1z"/>
<path fill="#433e85" d="M61 13h1v1h-1zM64 14h1v1h-1zM68 15h1v1h-1zM28 16h1v1h-1zM30 17h1v1h-1zM33 18h1v1h-1zM43 21h1v1h-1zM56 78h1v1h-1zM66 81h1v1h-1zM69 82h1v1h-1zM71 83h1v1h-1zM31 84h1v1h-1zM35 85h1v1h-1zM38 86h1v1h-1z"/>
<path fill="#3e4a89" d="M68 13h1v1h-1zM72 14h1v1h-1zM74 16h1v1h-1zM27 18h1v1h-1zM74 18h1v1h-1zM30 19h1v1h-1zM36 20h1v1h-1zM40 21h1v1h-1zM59 78h1v1h-1zM63 79h1v1h-1zM69 80h1v1h-1zM25 81h1v1h-1zM72 81h1v1h-1zM25 83h1v1h-1zM27 85h1v1h-1zM31 86h1v1h-1z"/>
<path fill="#20a486" d="M89 13h1v1h-1zM0 16h3v1h-3zM89 16h1v1h-1zM94 17h5v1h-5zM33 36h1v1h-1zM47 41h1v1h-1zM50 42h1v1h-1zM25 49h1v1h-1zM71 49h1v1h-1zM28 50h1v1h-1zM74 50h1v1h-1zM49 57h1v1h-1zM52 58h1v1h-1zM66 63h1v1h-1zM1 82h5v1h-5zM10 83h1v1h-1zM97 83h3v1h-3zM10 86h1v1h-1z"/>
<path fill="#25ab82" d="M90 13h1v1h-1zM92 15h2v1h-2zM9 18h1v1h-1zM14 27h1v1h-1zM42 40h1v1h-1zM54 44h1v1h-1zM57 45h1v1h-1zM69 49h1v1h-1zM30 50h1v1h-1zM42 54h1v1h-1zM45 55h1v1h-1zM57 59h1v1h-1zM85 72h1v1h-1zM90 81h1v1h-1zM6 84h2v1h-2zM9 86h1v1h-1z"/>
<path fill="#28ae80" d="M91 13h1v1h-1zM92 14h2v1h-2zM0 18h4v1h-4zM18 30h1v1h-1zM44 41h1v1h-1zM16 45h1v1h-1zM56 45h1v1h-1zM19 46h1v1h-1zM22 47h1v1h-1zM25 48h1v1h-1zM28 49h1v1h-1zM71 50h1v1h-1zM74 51h1v1h-1zM77 52h1v1h-1zM80 53h1v1h-1zM43 54h1v1h-1zM83 54h1v1h-1zM55 58h1v1h-1zM81 69h1v1h-1zM96 81h4v1h-4zM6 85h2v1h-2zM8 86h1v1h-1z"/>
<path fill="#1f9a8a" d="M0 14h4v1h-4zM13 15h1v1h-1zM85 18h1v1h-1zM12 19h1v1h-1zM86 19h2v1h-2zM96 20h4v1h-4zM12 22h1v1h-1zM13 24h1v1h-1zM15 26h1v1h-1zM24 31h1v1h-1zM29 33h1v1h-1zM32 34h1v1h-1zM35 35h1v1h-1zM38 36h1v1h-1zM51 40h1v1h-1zM54 41h1v1h-1zM57 42h1v1h-1zM5 43h1v1h-1zM60 43h1v1h-1zM63 44h1v1h-1zM12 46h1v1h-1zM71 47h1v1h-1zM17 48h1v1h-1zM74 48h1v1h-1zM20 49h1v1h-1zM79 50h1v1h-1zM25 51h1v1h-1zM82 51h1v1h-1zM28 52h1v1h-1zM87 53h1v1h-1zM36 55h1v1h-1zM39 56h1v1h-1zM94 56h1v1h-1zM42 57h1v1h-1zM45 58h1v1h-1zM48 59h1v1h-1zM61 63h1v1h-1zM64 64h1v1h-1zM67 65h1v1h-1zM70 66h1v1h-1zM75 68h1v1h-1zM84 73h1v1h-1zM86 75h1v1h-1zM87 77h1v1h-1zM0 79h4v1h-4zM12 80h2v1h-2zM87 80h1v1h-1zM14 81h1v1h-1zM86 84h1v1h-1zM96 85h4v1h-4z"/>
<path fill="#1f988b" d="M9 14h2v1h-2zM14 15h1v1h-1zM12 20h1v1h-1zM88 20h3v1h-3zM12 21h1v1h-1zM25 31h1v1h-1zM40 36h1v1h-1zM43 37h1v1h-1zM46 38h1v1h-1zM49 39h1v1h-1zM4 43h1v1h-1zM64 44h1v1h-1zM9 45h1v1h-1zM67 45h1v1h-1zM11 46h1v1h-1zM70 46h1v1h-1zM16 48h1v1h-1zM75 48h1v1h-1zM78 49h1v1h-1zM21 50h1v1h-1zM24 51h1v1h-1zM83 51h1v1h-1zM29 53h1v1h-1zM88 53h1v1h-1zM32 54h1v1h-1zM90 54h1v1h-1zM35 55h1v1h-1zM95 56h1v1h-1zM50 60h1v1h-1zM53 61h1v1h-1zM56 62h1v1h-1zM59 63h1v1h-1zM74 68h1v1h-1zM87 78h1v1h-1zM9 79h3v1h-3zM87 79h1v1h-1zM85 84h1v1h-1zM89 85h2v1h-2z"/>
<path fill="#460b5e" d="M47 14h1v1h-1zM51 14h1v1h-1zM46 16h1v1h-1zM52 16h1v1h-1zM52 18h1v1h-1zM47 81h1v1h-1zM47 83h1v1h-1zM53 83h1v1h-1zM48 85h1v1h-1zM52 85h1v1h-1z"/>
<path fill="#460a5d" d="M48 14h1v1h-1zM46 15h1v1h-1zM51 15h1v1h-1zM49 18h1v1h-1zM50 81h1v1h-1zM48 84h1v1h-1zM53 84h1v1h-1zM51 85h1v1h-1z"/>
<path fill="#46085c" d="M49 14h1v1h-1zM47 15h1v1h-1zM48 17h1v1h-1zM52 17h1v1h-1zM51 18h1v1h-1zM48 81h1v1h-1zM47 82h1v1h-1zM51 82h1v1h-1zM52 84h1v1h-1zM50 85h1v1h-1z"/>
<path fill="#450559" d="M50 14h1v1h-1zM48 15h1v1h-1zM50 15h1v1h-1zM51 17h1v1h-1zM48 82h1v1h-1zM49 84h1v1h-1zM51 84h1v1h-1zM49 85h1v1h-1z"/>
<path fill="#24aa83" d="M90 14h1v1h-1zM91 15h1v1h-1zM10 21h1v1h-1zM12 25h1v1h-1zM13 26h1v1h-1zM34 37h1v1h-1zM45 41h1v1h-1zM7 42h1v1h-1zM48 42h1v1h-1zM51 43h1v1h-1zM18 46h1v1h-1zM21 47h1v1h-1zM24 48h1v1h-1zM27 49h1v1h-1zM72 50h1v1h-1zM75 51h1v1h-1zM78 52h1v1h-1zM81 53h1v1h-1zM48 56h1v1h-1zM51 57h1v1h-1zM92 57h1v1h-1zM54 58h1v1h-1zM65 62h1v1h-1zM86 73h1v1h-1zM87 74h1v1h-1zM89 78h1v1h-1zM8 84h1v1h-1zM9 85h1v1h-1z"/>
<path fill="#29af7f" d="M94 14h4v1h-4zM9 20h1v1h-1zM28 35h1v1h-1zM33 37h1v1h-1zM5 41h1v1h-1zM68 49h1v1h-1zM31 50h1v1h-1zM94 58h1v1h-1zM66 62h1v1h-1zM71 64h1v1h-1zM90 79h1v1h-1zM2 85h4v1h-4z"/>
<path fill="#472f7d" d="M32 15h1v1h-1zM33 16h1v1h-1zM63 16h1v1h-1zM36 17h1v1h-1zM42 19h1v1h-1zM62 20h1v1h-1zM37 79h1v1h-1zM57 80h1v1h-1zM63 82h1v1h-1zM36 83h1v1h-1zM66 83h1v1h-1zM67 84h1v1h-1z"/>
<path fill="#470d60" d="M45 15h1v1h-1zM47 17h1v1h-1zM53 17h1v1h-1zM49 19h1v1h-1zM50 80h1v1h-1zM46 82h1v1h-1zM52 82h1v1h-1zM54 84h1v1h-1z"/>
<path fill="#440256" d="M49 15h1v1h-1zM50 16h1v1h-1zM49 83h1v1h-1zM50 84h1v1h-1z"/>
<path fill="#1fa188" d="M11 16h1v1h-1zM88 17h1v1h-1zM94 18h6v1h-6zM11 20h1v1h-1zM11 21h1v1h-1zM13 25h1v1h-1zM14 26h1v1h-1zM20 30h1v1h-1zM24 32h1v1h-1zM40 38h1v1h-1zM43 39h1v1h-1zM46 40h1v1h-1zM49 41h1v1h-1zM5 42h1v1h-1zM52 42h1v1h-1zM10 44h1v1h-1zM64 46h1v1h-1zM18 47h1v1h-1zM67 47h1v1h-1zM70 48h1v1h-1zM29 51h1v1h-1zM32 52h1v1h-1zM81 52h1v1h-1zM35 53h1v1h-1zM89 55h1v1h-1zM47 57h1v1h-1zM94 57h1v1h-1zM50 58h1v1h-1zM53 59h1v1h-1zM56 60h1v1h-1zM59 61h1v1h-1zM75 67h1v1h-1zM79 69h1v1h-1zM85 73h1v1h-1zM86 74h1v1h-1zM88 78h1v1h-1zM88 79h1v1h-1zM0 81h6v1h-6zM11 82h1v1h-1zM88 83h1v1h-1z"/>
<path fill="#46075a" d="M47 16h1v1h-1zM51 16h1v1h-1zM50 18h1v1h-1zM49 81h1v1h-1zM48 83h1v1h-1zM52 83h1v1h-1z"/>
<path fill="#450457" d="M48 16h1v1h-1zM49 17h1v1h-1zM50 82h1v1h-1zM51 83h1v1h-1z"/>
<path fill="#440154" d="M49 16h1v1h-1zM50 17h1v1h-1zM49 82h1v1h-1zM50 83h1v1h-1z"/>
<path fill="#482979" d="M39 17h1v1h-1zM63 17h1v1h-1zM62 19h1v1h-1zM59 20h1v1h-1zM51 21h1v1h-1zM48 78h1v1h-1zM40 79h1v1h-1zM37 80h1v1h-1zM36 82h1v1h-1zM60 82h1v1h-1z"/>
<path fill="#35b779" d="M5 20h2v1h-2zM8 21h1v1h-1zM10 24h1v1h-1zM27 35h1v1h-1zM32 37h1v1h-1zM40 40h1v1h-1zM48 43h1v1h-1zM61 47h1v1h-1zM64 48h1v1h-1zM35 51h1v1h-1zM38 52h1v1h-1zM51 56h1v1h-1zM59 59h1v1h-1zM67 62h1v1h-1zM72 64h1v1h-1zM89 75h1v1h-1zM91 78h1v1h-1zM93 79h2v1h-2z"/>
<path fill="#5cc863" d="M6 24h1v1h-1zM13 43h1v1h-1zM56 46h1v1h-1zM59 47h1v1h-1zM28 48h1v1h-1zM31 49h1v1h-1zM65 49h1v1h-1zM34 50h1v1h-1zM68 50h1v1h-1zM71 51h1v1h-1zM40 52h1v1h-1zM43 53h1v1h-1zM86 56h1v1h-1zM93 75h1v1h-1z"/>
<path fill="#75d054" d="M0 26h7v1h-7zM0 38h1v1h-1zM8 41h1v1h-1zM91 58h1v1h-1zM99 61h1v1h-1zM93 73h7v1h-7z"/>
<path fill="#73d056" d="M7 26h1v1h-1zM13 29h1v1h-1zM86 70h1v1h-1zM92 73h1v1h-1z"/>
<path fill="#81d34d" d="M0 27h6v1h-6zM14 30h1v1h-1zM52 45h1v1h-1zM29 48h1v1h-1zM70 51h1v1h-1zM47 54h1v1h-1zM85 69h1v1h-1zM94 72h6v1h-6z"/>
<path fill="#7fd34e" d="M6 27h2v1h-2zM16 31h1v1h-1zM20 33h1v1h-1zM37 40h1v1h-1zM14 43h1v1h-1zM55 46h1v1h-1zM32 49h1v1h-1zM67 50h1v1h-1zM44 53h1v1h-1zM85 56h1v1h-1zM62 59h1v1h-1zM79 66h1v1h-1zM83 68h1v1h-1zM92 72h2v1h-2z"/>
<path fill="#7cd250" d="M8 27h1v1h-1zM18 32h1v1h-1zM58 47h1v1h-1zM61 48h1v1h-1zM64 49h1v1h-1zM35 50h1v1h-1zM38 51h1v1h-1zM41 52h1v1h-1zM81 67h1v1h-1zM91 72h1v1h-1z"/>
<path fill="#7ad151" d="M9 27h1v1h-1zM27 36h1v1h-1zM11 42h1v1h-1zM88 57h1v1h-1zM72 63h1v1h-1zM90 72h1v1h-1z"/>
<path fill="#8bd646" d="M0 28h8v1h-8zM34 39h1v1h-1zM65 60h1v1h-1zM92 71h8v1h-8z"/>
<path fill="#89d548" d="M8 28h2v1h-2zM29 37h1v1h-1zM70 62h1v1h-1zM90 71h2v1h-2z"/>
<path fill="#84d44b" d="M10 28h1v1h-1zM12 29h1v1h-1zM22 34h1v1h-1zM17 44h1v1h-1zM26 47h1v1h-1zM73 52h1v1h-1zM82 55h1v1h-1zM77 65h1v1h-1zM87 70h1v1h-1zM89 71h1v1h-1z"/>
<path fill="#77d153" d="M11 28h1v1h-1zM32 38h1v1h-1zM40 41h1v1h-1zM59 58h1v1h-1zM67 61h1v1h-1zM88 71h1v1h-1z"/>
<path fill="#95d840" d="M0 29h10v1h-10zM17 32h1v1h-1zM82 67h1v1h-1zM90 70h10v1h-10z"/>
<path fill="#93d741" d="M10 29h1v1h-1zM15 31h1v1h-1zM42 42h1v1h-1zM57 57h1v1h-1zM84 68h1v1h-1zM89 70h1v1h-1z"/>
<path fill="#8ed645" d="M11 29h1v1h-1zM24 35h1v1h-1zM48 44h1v1h-1zM51 55h1v1h-1zM75 64h1v1h-1zM88 70h1v1h-1z"/>
<path fill="#a0da39" d="M0 30h10v1h-10zM14 31h1v1h-1zM21 34h1v1h-1zM36 40h1v1h-1zM12 42h1v1h-1zM60 48h1v1h-1zM63 49h1v1h-1zM36 50h1v1h-1zM39 51h1v1h-1zM87 57h1v1h-1zM63 59h1v1h-1zM78 65h1v1h-1zM85 68h1v1h-1zM90 69h10v1h-10z"/>
<path fill="#9dd93b" d="M10 30h2v1h-2zM9 41h1v1h-1zM90 58h1v1h-1zM88 69h2v1h-2z"/>
<path fill="#98d83e" d="M12 30h1v1h-1zM19 33h1v1h-1zM1 38h1v1h-1zM31 38h1v1h-1zM39 41h1v1h-1zM60 58h1v1h-1zM68 61h1v1h-1zM98 61h1v1h-1zM80 66h1v1h-1zM87 69h1v1h-1z"/>
<path fill="#90d743" d="M13 30h1v1h-1zM6 40h1v1h-1zM45 43h1v1h-1zM54 56h1v1h-1zM93 59h1v1h-1zM86 69h1v1h-1z"/>
<path fill="#a8db34" d="M0 31h13v1h-13zM23 35h1v1h-1zM18 44h1v1h-1zM54 46h1v1h-1zM30 48h1v1h-1zM69 51h1v1h-1zM45 53h1v1h-1zM81 55h1v1h-1zM76 64h1v1h-1zM87 68h13v1h-13z"/>
<path fill="#a5db36" d="M13 31h1v1h-1zM16 32h1v1h-1zM4 39h1v1h-1zM95 60h1v1h-1zM83 67h1v1h-1zM86 68h1v1h-1z"/>
<path fill="#b2dd2d" d="M0 32h14v1h-14zM20 34h1v1h-1zM7 40h1v1h-1zM41 42h1v1h-1zM58 57h1v1h-1zM92 59h1v1h-1zM79 65h1v1h-1zM86 67h14v1h-14z"/>
<path fill="#b0dd2f" d="M14 32h1v1h-1zM85 67h1v1h-1z"/>
<path fill="#addc30" d="M15 32h1v1h-1zM24 46h1v1h-1zM27 47h1v1h-1zM72 52h1v1h-1zM75 53h1v1h-1zM84 67h1v1h-1z"/>
<path fill="#bade28" d="M0 33h16v1h-16zM22 35h1v1h-1zM0 37h1v1h-1zM35 40h1v1h-1zM64 59h1v1h-1zM99 62h1v1h-1zM77 64h1v1h-1zM84 66h16v1h-16z"/>
<path fill="#b8de29" d="M16 33h1v1h-1zM30 38h1v1h-1zM69 61h1v1h-1zM83 66h1v1h-1z"/>
<path fill="#b5de2b" d="M17 33h1v1h-1zM25 36h1v1h-1zM2 38h1v1h-1zM38 41h1v1h-1zM44 43h1v1h-1zM51 45h1v1h-1zM48 54h1v1h-1zM55 56h1v1h-1zM61 58h1v1h-1zM97 61h1v1h-1zM74 63h1v1h-1zM82 66h1v1h-1z"/>
<path fill="#aadc32" d="M18 33h1v1h-1zM28 37h1v1h-1zM33 39h1v1h-1zM21 45h1v1h-1zM78 54h1v1h-1zM66 60h1v1h-1zM71 62h1v1h-1zM81 66h1v1h-1z"/>
<path fill="#c0df25" d="M0 34h2v1h-2zM18 34h1v1h-1zM5 39h1v1h-1zM59 48h1v1h-1zM62 49h1v1h-1zM37 50h1v1h-1zM40 51h1v1h-1zM94 60h1v1h-1zM81 65h1v1h-1zM98 65h2v1h-2z"/>
<path fill="#c2df23" d="M2 34h16v1h-16zM27 37h1v1h-1zM32 39h1v1h-1zM16 43h1v1h-1zM34 49h1v1h-1zM65 50h1v1h-1zM83 56h1v1h-1zM67 60h1v1h-1zM72 62h1v1h-1zM82 65h16v1h-16z"/>
<path fill="#bddf26" d="M19 34h1v1h-1zM10 41h1v1h-1zM13 42h1v1h-1zM47 44h1v1h-1zM52 55h1v1h-1zM86 57h1v1h-1zM89 58h1v1h-1zM80 65h1v1h-1z"/>
<path fill="#c5e021" d="M0 35h1v1h-1zM21 35h1v1h-1zM24 36h1v1h-1zM3 38h1v1h-1zM19 44h1v1h-1zM56 47h1v1h-1zM43 52h1v1h-1zM80 55h1v1h-1zM96 61h1v1h-1zM75 63h1v1h-1zM78 64h1v1h-1zM99 64h1v1h-1z"/>
<path fill="#c8e020" d="M1 35h4v1h-4zM20 35h1v1h-1zM1 37h1v1h-1zM31 48h1v1h-1zM68 51h1v1h-1zM98 62h1v1h-1zM79 64h1v1h-1zM95 64h4v1h-4z"/>
<path fill="#cae11f" d="M5 35h15v1h-15zM0 36h1v1h-1zM22 45h1v1h-1zM77 54h1v1h-1zM99 63h1v1h-1zM80 64h15v1h-15z"/>
<path fill="#cde11d" d="M1 36h3v1h-3zM23 36h1v1h-1zM29 38h1v1h-1zM8 40h1v1h-1zM37 41h1v1h-1zM40 42h1v1h-1zM53 46h1v1h-1zM28 47h1v1h-1zM71 52h1v1h-1zM46 53h1v1h-1zM59 57h1v1h-1zM62 58h1v1h-1zM91 59h1v1h-1zM70 61h1v1h-1zM76 63h1v1h-1zM96 63h3v1h-3z"/>
<path fill="#d0e11c" d="M4 36h6v1h-6zM22 36h1v1h-1zM2 37h1v1h-1zM26 37h1v1h-1zM4 38h1v1h-1zM6 39h1v1h-1zM34 40h1v1h-1zM43 43h1v1h-1zM25 46h1v1h-1zM74 53h1v1h-1zM56 56h1v1h-1zM65 59h1v1h-1zM93 60h1v1h-1zM95 61h1v1h-1zM73 62h1v1h-1zM97 62h1v1h-1zM77 63h1v1h-1zM90 63h6v1h-6z"/>
<path fill="#d2e21b" d="M10 36h12v1h-12zM3 37h2v1h-2zM11 41h1v1h-1zM88 58h1v1h-1zM95 62h2v1h-2zM78 63h12v1h-12z"/>
<path fill="#9bd93c" d="M26 36h1v1h-1zM73 63h1v1h-1z"/>
<path fill="#d5e21a" d="M5 37h3v1h-3zM25 37h1v1h-1zM5 38h1v1h-1zM31 39h1v1h-1zM14 42h1v1h-1zM85 57h1v1h-1zM68 60h1v1h-1zM94 61h1v1h-1zM74 62h1v1h-1zM92 62h3v1h-3z"/>
<path fill="#d8e219" d="M8 37h17v1h-17zM28 38h1v1h-1zM17 43h1v1h-1zM82 56h1v1h-1zM71 61h1v1h-1zM75 62h17v1h-17z"/>
<path fill="#dae319" d="M6 38h3v1h-3zM7 39h1v1h-1zM9 40h1v1h-1zM46 44h1v1h-1zM58 48h1v1h-1zM35 49h1v1h-1zM61 49h1v1h-1zM38 50h1v1h-1zM64 50h1v1h-1zM41 51h1v1h-1zM53 55h1v1h-1zM90 59h1v1h-1zM92 60h1v1h-1zM91 61h3v1h-3z"/>
<path fill="#dde318" d="M9 38h9v1h-9zM26 38h2v1h-2zM8 39h1v1h-1zM30 39h1v1h-1zM33 40h1v1h-1zM36 41h1v1h-1zM20 44h1v1h-1zM79 55h1v1h-1zM63 58h1v1h-1zM66 59h1v1h-1zM69 60h1v1h-1zM91 60h1v1h-1zM72 61h2v1h-2zM82 61h9v1h-9z"/>
<path fill="#dfe318" d="M18 38h8v1h-8zM9 39h2v1h-2zM10 40h1v1h-1zM12 41h1v1h-1zM39 42h1v1h-1zM23 45h1v1h-1zM55 47h1v1h-1zM32 48h1v1h-1zM67 51h1v1h-1zM44 52h1v1h-1zM76 54h1v1h-1zM60 57h1v1h-1zM87 58h1v1h-1zM89 59h1v1h-1zM89 60h2v1h-2zM74 61h8v1h-8z"/>
<path fill="#86d549" d="M3 39h1v1h-1zM20 45h1v1h-1zM23 46h1v1h-1zM76 53h1v1h-1zM79 54h1v1h-1zM96 60h1v1h-1z"/>
<path fill="#e2e418" d="M11 39h7v1h-7zM29 39h1v1h-1zM15 42h1v1h-1zM42 43h1v1h-1zM57 56h1v1h-1zM84 57h1v1h-1zM70 60h1v1h-1zM82 60h7v1h-7z"/>
<path fill="#e5e419" d="M18 39h11v1h-11zM11 40h3v1h-3zM32 40h1v1h-1zM13 41h1v1h-1zM35 41h1v1h-1zM18 43h1v1h-1zM50 45h1v1h-1zM26 46h1v1h-1zM29 47h1v1h-1zM70 52h1v1h-1zM73 53h1v1h-1zM49 54h1v1h-1zM81 56h1v1h-1zM64 58h1v1h-1zM86 58h1v1h-1zM67 59h1v1h-1zM86 59h3v1h-3zM71 60h11v1h-11z"/>
<path fill="#e7e419" d="M14 40h8v1h-8zM30 40h2v1h-2zM14 41h1v1h-1zM38 42h1v1h-1zM52 46h1v1h-1zM47 53h1v1h-1zM61 57h1v1h-1zM85 58h1v1h-1zM68 59h2v1h-2zM78 59h8v1h-8z"/>
<path fill="#eae51a" d="M22 40h8v1h-8zM15 41h2v1h-2zM34 41h1v1h-1zM16 42h1v1h-1zM21 44h1v1h-1zM78 55h1v1h-1zM83 57h1v1h-1zM65 58h1v1h-1zM83 58h2v1h-2zM70 59h8v1h-8z"/>
<path fill="#ece51b" d="M17 41h17v1h-17zM17 42h1v1h-1zM37 42h1v1h-1zM19 43h1v1h-1zM41 43h1v1h-1zM45 44h1v1h-1zM24 45h1v1h-1zM57 48h1v1h-1zM36 49h1v1h-1zM60 49h1v1h-1zM39 50h1v1h-1zM63 50h1v1h-1zM42 51h1v1h-1zM75 54h1v1h-1zM54 55h1v1h-1zM58 56h1v1h-1zM80 56h1v1h-1zM62 57h1v1h-1zM82 57h1v1h-1zM66 58h17v1h-17z"/>
<path fill="#efe51c" d="M18 42h4v1h-4zM36 42h1v1h-1zM33 48h1v1h-1zM66 51h1v1h-1zM63 57h1v1h-1zM78 57h4v1h-4z"/>
<path fill="#f1e51d" d="M22 42h14v1h-14zM20 43h3v1h-3zM40 43h1v1h-1zM22 44h1v1h-1zM44 44h1v1h-1zM27 46h1v1h-1zM30 47h1v1h-1zM54 47h1v1h-1zM45 52h1v1h-1zM69 52h1v1h-1zM72 53h1v1h-1zM55 55h1v1h-1zM77 55h1v1h-1zM59 56h1v1h-1zM77 56h3v1h-3zM64 57h14v1h-14z"/>
<path fill="#a2da37" d="M15 43h1v1h-1zM57 47h1v1h-1zM33 49h1v1h-1zM66 50h1v1h-1zM42 52h1v1h-1zM84 56h1v1h-1z"/>
<path fill="#f4e61e" d="M23 43h17v1h-17zM23 44h2v1h-2zM25 45h1v1h-1zM74 54h1v1h-1zM75 55h2v1h-2zM60 56h17v1h-17z"/>
<path fill="#f6e620" d="M25 44h19v1h-19zM26 45h1v1h-1zM48 45h2v1h-2zM28 46h1v1h-1zM51 46h1v1h-1zM31 47h1v1h-1zM34 48h1v1h-1zM56 48h1v1h-1zM37 49h1v1h-1zM59 49h1v1h-1zM40 50h1v1h-1zM62 50h1v1h-1zM43 51h1v1h-1zM65 51h1v1h-1zM68 52h1v1h-1zM48 53h1v1h-1zM71 53h1v1h-1zM50 54h2v1h-2zM73 54h1v1h-1zM56 55h19v1h-19z"/>
<path fill="#f8e621" d="M27 45h21v1h-21zM29 46h2v1h-2zM50 46h1v1h-1zM53 47h1v1h-1zM46 52h1v1h-1zM49 53h1v1h-1zM69 53h2v1h-2zM52 54h21v1h-21z"/>
<path fill="#fbe723" d="M31 46h19v1h-19zM32 47h4v1h-4zM51 47h2v1h-2zM35 48h2v1h-2zM55 48h1v1h-1zM38 49h1v1h-1zM58 49h1v1h-1zM41 50h1v1h-1zM61 50h1v1h-1zM44 51h1v1h-1zM63 51h2v1h-2zM47 52h2v1h-2zM64 52h4v1h-4zM50 53h19v1h-19z"/>
<path fill="#fde725" d="M36 47h15v1h-15zM37 48h18v1h-18zM39 49h19v1h-19zM42 50h19v1h-19zM45 51h18v1h-18zM49 52h15v1h-15z"/>
</svg>
<svg width="840" height="600" viewBox="0 0 840 600">
<defs><linearGradient id="cb" x1="0" y1="1" x2="0" y2="0">
<stop offset="0.0000" stop-color="#440154"/><stop offset="0.0156" stop-color="#46075a"/><stop offset="0.0312" stop-color="#470d60"/><stop offset="0.0469" stop-color="#471365"/><stop offset="0.0625" stop-color="#48186a"/><stop offset="0.0781" stop-color="#481d6f"/><stop offset="0.0938" stop-color="#482374"/><stop offset="0.1094" stop-color="#482878"/><stop offset="0.1250" stop-color="#472d7b"/><stop offset="0.1406" stop-color="#46327e"/><stop offset="0.1562" stop-color="#453781"/><stop offset="0.1719" stop-color="#443b84"/><stop offset="0.1875" stop-color="#424086"/><stop offset="0.2031" stop-color="#404588"/><stop offset="0.2188" stop-color="#3e4989"/><stop offset="0.2344" stop-color="#3d4e8a"/><stop offset="0.2500" stop-color="#3b528b"/><stop offset="0.2656" stop-color="#39568c"/><stop offset="0.2812" stop-color="#375b8d"/><stop offset="0.2969" stop-color="#355f8d"/><stop offset="0.3125" stop-color="#33638d"/><stop offset="0.3281" stop-color="#31678e"/><stop offset="0.3438" stop-color="#2f6b8e"/><stop offset="0.3594" stop-color="#2e6f8e"/><stop offset="0.3750" stop-color="#2c728e"/><stop offset="0.3906" stop-color="#2a768e"/><stop offset="0.4062" stop-color="#297a8e"/><stop offset="0.4219" stop-color="#277e8e"/><stop offset="0.4375" stop-color="#26828e"/><stop offset="0.4531" stop-color="#25858e"/><stop offset="0.4688" stop-color="#23898e"/><stop offset="0.4844" stop-color="#228d8d"/><stop offset="0.5000" stop-color="#21918c"/><stop offset="0.5156" stop-color="#20938c"/><stop offset="0.5312" stop-color="#1f978b"/><stop offset="0.5469" stop-color="#1e9b8a"/><stop offset="0.5625" stop-color="#1f9f88"/><stop offset="0.5781" stop-color="#1fa287"/><stop offset="0.5938" stop-color="#21a685"/><stop offset="0.6094" stop-color="#24aa83"/><stop offset="0.6250" stop-color="#27ad81"/><stop offset="0.6406" stop-color="#2cb17e"/><stop offset="0.6562" stop-color="#31b57b"/><stop offset="0.6719" stop-color="#37b878"/><stop offset="0.6875" stop-color="#3dbc74"/><stop offset="0.7031" stop-color="#44bf70"/><stop offset="0.7188" stop-color="#4cc26c"/><stop offset="0.7344" stop-color="#54c568"/><stop offset="0.7500" stop-color="#5cc863"/><stop offset="0.7656" stop-color="#65cb5e"/><stop offset="0.7812" stop-color="#6ece58"/><stop offset="0.7969" stop-color="#77d153"/><stop offset="0.8125" stop-color="#81d34d"/><stop offset="0.8281" stop-color="#8bd646"/><stop offset="0.8438" stop-color="#95d840"/><stop offset="0.8594" stop-color="#a0da39"/><stop offset="0.8750" stop-color="#aadc32"/><stop offset="0.8906" stop-color="#b5de2b"/><stop offset="0.9062" stop-color="#c0df25"/><stop offset="0.9219" stop-color="#cae11f"/><stop offset="0.9375" stop-color="#d5e21a"/><stop offset="0.9531" stop-color="#dfe318"/><stop offset="0.9688" stop-color="#eae51a"/><stop offset="0.9844" stop-color="#f4e61e"/><stop offset="1.0000" stop-color="#fde725"/>
</linearGradient></defs>
<rect x="700.7" y="44.5" width="23.60" height="482.80" fill="url(#cb)"/>
<g stroke="#000" stroke-width="1.333" fill="none" stroke-linecap="butt">
<rect x="77.5" y="44.5" width="586.20" height="482.80"/>
<rect x="700.7" y="44.5" width="23.60" height="482.80"/>
<line x1="122.50" y1="527.3" x2="122.50" y2="533.13"/><line x1="71.67" y1="490.50" x2="77.5" y2="490.50"/><line x1="246.75" y1="527.3" x2="246.75" y2="533.13"/><line x1="71.67" y1="388.25" x2="77.5" y2="388.25"/><line x1="371.00" y1="527.3" x2="371.00" y2="533.13"/><line x1="71.67" y1="286.00" x2="77.5" y2="286.00"/><line x1="495.25" y1="527.3" x2="495.25" y2="533.13"/><line x1="71.67" y1="183.75" x2="77.5" y2="183.75"/><line x1="619.50" y1="527.3" x2="619.50" y2="533.13"/><line x1="71.67" y1="81.50" x2="77.5" y2="81.50"/><line x1="724.3" y1="101.20" x2="730.13" y2="101.20"/><line x1="724.3" y1="157.36" x2="730.13" y2="157.36"/><line x1="724.3" y1="213.52" x2="730.13" y2="213.52"/><line x1="724.3" y1="269.67" x2="730.13" y2="269.67"/><line x1="724.3" y1="325.83" x2="730.13" y2="325.83"/><line x1="724.3" y1="381.99" x2="730.13" y2="381.99"/><line x1="724.3" y1="438.15" x2="730.13" y2="438.15"/><line x1="724.3" y1="494.31" x2="730.13" y2="494.31"/>
</g>
<g font-size="17">
<rect x="111.97" y="544.07" width="10.47" height="1.37" fill="#000"/><text x="124.48" y="550.20" textLength="10.00" lengthAdjust="spacingAndGlyphs">4</text><rect x="43.15" y="490.44" width="10.47" height="1.37" fill="#000"/><text x="55.67" y="496.57" textLength="10.00" lengthAdjust="spacingAndGlyphs">4</text><rect x="236.22" y="544.07" width="10.47" height="1.37" fill="#000"/><text x="248.73" y="550.20" textLength="10.00" lengthAdjust="spacingAndGlyphs">2</text><rect x="43.15" y="388.19" width="10.47" height="1.37" fill="#000"/><text x="55.67" y="394.32" textLength="10.00" lengthAdjust="spacingAndGlyphs">2</text><text x="366.00" y="550.20" textLength="10.00" lengthAdjust="spacingAndGlyphs">0</text><text x="55.67" y="292.07" textLength="10.00" lengthAdjust="spacingAndGlyphs">0</text><text x="490.25" y="550.20" textLength="10.00" lengthAdjust="spacingAndGlyphs">2</text><text x="55.67" y="189.82" textLength="10.00" lengthAdjust="spacingAndGlyphs">2</text><text x="614.50" y="550.20" textLength="10.00" lengthAdjust="spacingAndGlyphs">4</text><text x="55.67" y="87.57" textLength="10.00" lengthAdjust="spacingAndGlyphs">4</text><rect x="737.71" y="101.14" width="10.47" height="1.37" fill="#000"/><text x="750.23" y="107.27" textLength="20.60" lengthAdjust="spacingAndGlyphs">20</text><rect x="737.71" y="157.29" width="10.47" height="1.37" fill="#000"/><text x="750.23" y="163.43" textLength="20.60" lengthAdjust="spacingAndGlyphs">40</text><rect x="737.71" y="213.45" width="10.47" height="1.37" fill="#000"/><text x="750.23" y="219.59" textLength="20.60" lengthAdjust="spacingAndGlyphs">60</text><rect x="737.71" y="269.61" width="10.47" height="1.37" fill="#000"/><text x="750.23" y="275.74" textLength="20.60" lengthAdjust="spacingAndGlyphs">80</text><rect x="737.71" y="325.77" width="10.47" height="1.37" fill="#000"/><text x="750.23" y="331.90" textLength="31.20" lengthAdjust="spacingAndGlyphs">100</text><rect x="737.71" y="381.93" width="10.47" height="1.37" fill="#000"/><text x="750.23" y="388.06" textLength="31.20" lengthAdjust="spacingAndGlyphs">120</text><rect x="737.71" y="438.08" width="10.47" height="1.37" fill="#000"/><text x="750.23" y="444.22" textLength="31.20" lengthAdjust="spacingAndGlyphs">140</text><rect x="737.71" y="494.24" width="10.47" height="1.37" fill="#000"/><text x="750.23" y="500.38" textLength="31.20" lengthAdjust="spacingAndGlyphs">160</text>
</g>
<text x="198.6" y="34" font-size="20.4" textLength="344.5" lengthAdjust="spacingAndGlyphs">State-value <tspan font-style="italic">V</tspan> after Policy Iteration</text>
<g font-size="17" font-style="italic">
<text x="370.5" y="576.6" text-anchor="middle">θ</text>
<circle cx="370.8" cy="560.3" r="1.1" fill="#000"/>
<text transform="translate(30,285.5) rotate(-90)" text-anchor="middle">θ</text>
</g>
<g transform="translate(805,352) rotate(-90)" font-size="17">
<text x="0.2" y="0" font-style="italic" textLength="9.6" lengthAdjust="spacingAndGlyphs">V</text>
<text x="10.2" y="-5" font-size="11.5" font-style="italic" textLength="6.4" lengthAdjust="spacingAndGlyphs">π</text>
<text x="19.2" y="0" textLength="5.6" lengthAdjust="spacingAndGlyphs">(</text>
<text x="24.4" y="0" font-style="italic" textLength="8" lengthAdjust="spacingAndGlyphs">θ</text>
<text x="35.2" y="0" textLength="2.4" lengthAdjust="spacingAndGlyphs">,</text>
<text x="43.8" y="0" font-style="italic" textLength="8" lengthAdjust="spacingAndGlyphs">θ</text>
<circle cx="48.6" cy="-16.3" r="1.05" fill="#000"/>
<text x="53.2" y="0" textLength="5.2" lengthAdjust="spacingAndGlyphs">)</text>
<text x="65.8" y="0" textLength="66.6" lengthAdjust="spacingAndGlyphs">(final PI)</text>
</g>
</svg>
</body></html>
